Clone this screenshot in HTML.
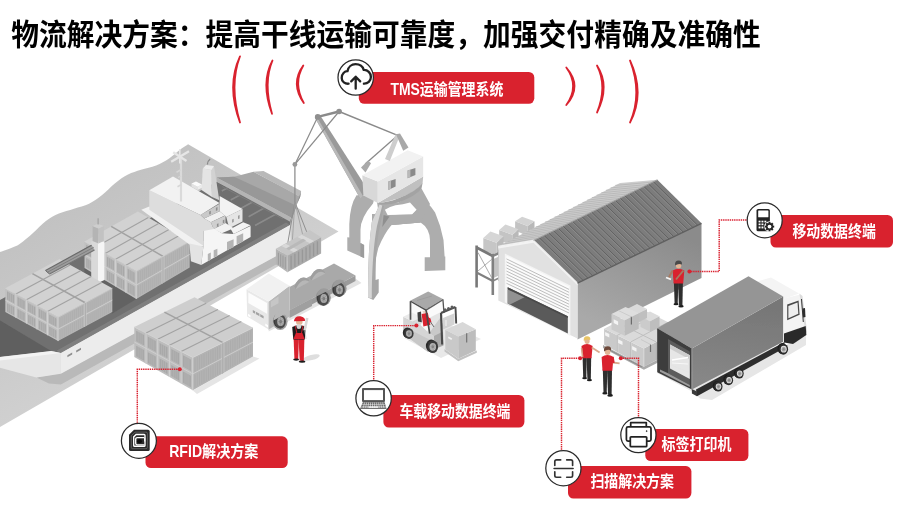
<!DOCTYPE html>
<html lang="zh-CN">
<head>
<meta charset="utf-8">
<title>物流解决方案</title>
<style>
html,body{margin:0;padding:0;background:#fff;}
body{width:908px;height:509px;overflow:hidden;position:relative;font-family:"Liberation Sans",sans-serif;}
#stage{position:absolute;left:0;top:0;width:908px;height:509px;display:block;}
.sr{position:absolute;left:0;top:0;width:1px;height:1px;overflow:hidden;clip:rect(0 0 0 0);clip-path:inset(50%);white-space:nowrap;font-size:1px;color:transparent;}
</style>
</head>
<body>
<h1 class="sr">物流解决方案：提高干线运输可靠度，加强交付精确及准确性</h1>
<ul class="sr"><li>TMS运输管理系统</li><li>移动数据终端</li><li>车载移动数据终端</li><li>RFID解决方案</li><li>标签打印机</li><li>扫描解决方案</li></ul>
<svg id="stage" width="908" height="509" viewBox="0 0 908 509" role="img" aria-label="物流解决方案：提高干线运输可靠度，加强交付精确及准确性">
<defs>
<linearGradient id="gwater" gradientUnits="userSpaceOnUse" x1="70" y1="205" x2="150" y2="345"><stop offset="0" stop-color="#c2c2c2"/><stop offset="1" stop-color="#d0d0d0"/></linearGradient>
<linearGradient id="gwall" gradientUnits="userSpaceOnUse" x1="660" y1="225" x2="610" y2="330"><stop offset="0" stop-color="#8b8b8b"/><stop offset="1" stop-color="#a9a9a9"/></linearGradient>
<linearGradient id="gtruck" gradientUnits="userSpaceOnUse" x1="745" y1="305" x2="735" y2="385"><stop offset="0" stop-color="#777777"/><stop offset="1" stop-color="#878787"/></linearGradient>
<filter id="soft" x="-2%" y="-2%" width="104%" height="104%"><feGaussianBlur stdDeviation="0.7"/></filter>
<filter id="soft2" x="-2%" y="-5%" width="104%" height="110%"><feGaussianBlur stdDeviation="0.55"/></filter>
</defs>
<g id="scene" filter="url(#soft)">
<path d="M0 252C1.7 251.4 6.7 249.9 10 248.5C13.3 247.1 16.2 246.3 20 243.7C23.8 241.1 28.7 236.7 33 232.9C37.3 229.1 41.6 224.2 45.9 221C50.2 217.8 54.2 215.6 58.9 213.5C63.6 211.4 69 210.3 74 208.7C79 207.1 84.4 206 89.1 203.7C93.8 201.4 97.8 198.5 102.1 195.1C106.4 191.7 110.8 186.6 115.1 183.2C119.4 179.8 123.7 176.8 128 174.6C132.3 172.4 136.3 171.3 141 169.8C145.7 168.3 151.4 167.4 156.1 165.5C160.8 163.6 165.1 161 169.1 158.4C173.1 155.8 176.7 152 179.9 149.7C183.1 147.3 186.7 145.2 188.1 144.3L338.5 231.5L0 427Z" fill="url(#gwater)"/>
<polygon points="36.4,377.6 60.9,373.2 291,248 294,254.5 60.9,384.6 49,383.6" fill="#b9b9b9"/>
<polygon points="0,300 216.7,181.7 291,219.5 290,225 60.9,353.1 51.1,351.1 0,357" fill="#6f6f6f"/>
<polygon points="0,320.6 51.1,351.1 0,356.5" fill="#5e5e5e"/>
<polygon points="60.9,353.1 290,225 286,222.5 56.5,350.8" fill="#7f7f7f"/>
<polygon points="0,359 51.1,352.5 60.9,353.1 60.9,373.7 36.4,377.6 0,367.8" fill="#e6e6e6"/>
<polygon points="0,357 51.1,351.1 60.9,353.1 0,360.5" fill="#f3f3f3"/>
<polygon points="60.9,353.1 290,225 291,248 60.9,373.7" fill="#ececec"/>
<polygon points="67.4,355.2 72.2,352.6 72.2,354.6 67.4,357.2" fill="#8e8e8e"/>
<polygon points="76.2,350.4 81,347.8 81,349.8 76.2,352.4" fill="#8e8e8e"/>
<polygon points="216.7,177.5 234.2,176.7 253.5,171.7 292,192 300.2,196.8 291,217.6" fill="#a8a8a8"/>
<polygon points="253.5,171.7 263.5,170.9 301.1,190.9 300.2,197 292,192.5" fill="#b9b9b9"/>
<polygon points="216.7,177.5 234.2,176.7 297,206 291,217.6" fill="#989898"/>
<polygon points="216.7,177.5 291,217.6 290.2,221.8 216.7,181.7" fill="#b4b4b4"/>
<polygon points="300.2,196.8 301.1,190.9 292,219 291,217.6" fill="#8a8a8a"/>
<line x1="221.8" y1="191.1" x2="227.2" y2="188.1" stroke="#8b8b8b" stroke-width="1.7"/>
<line x1="230.7" y1="200.1" x2="239.9" y2="195" stroke="#8b8b8b" stroke-width="1.7"/>
<line x1="239.7" y1="209" x2="252.6" y2="201.9" stroke="#8b8b8b" stroke-width="1.7"/>
<line x1="248.6" y1="216.7" x2="264.2" y2="208.1" stroke="#8b8b8b" stroke-width="1.7"/>
<line x1="255" y1="225.6" x2="275.6" y2="214.3" stroke="#8b8b8b" stroke-width="1.7"/>
<line x1="222" y1="186.5" x2="283" y2="219" stroke="#7c7c7c" stroke-width="1"/>
<polygon points="84.5,268 136.3,299 112.3,313.5 84.5,297" fill="#626262"/>
<polygon points="84.5,241.4 136.3,271.3 136.3,298.9 84.5,267.9" fill="#c0c0c0"/>
<polygon points="86.2,244.7 93.2,248.8 93.2,258.2 86.2,254" fill="#a8a8a8"/>
<line x1="87.9" y1="245.8" x2="87.9" y2="255.1" stroke="#c0c0c0" stroke-width="0.5"/>
<line x1="89.7" y1="246.8" x2="89.7" y2="256.1" stroke="#c0c0c0" stroke-width="0.5"/>
<line x1="91.4" y1="247.8" x2="91.4" y2="257.1" stroke="#c0c0c0" stroke-width="0.5"/>
<polygon points="86.2,258 93.2,262.2 93.2,271.5 86.2,267.3" fill="#a8a8a8"/>
<line x1="87.9" y1="259.1" x2="87.9" y2="268.4" stroke="#c0c0c0" stroke-width="0.5"/>
<line x1="89.7" y1="260.1" x2="89.7" y2="269.4" stroke="#c0c0c0" stroke-width="0.5"/>
<line x1="91.4" y1="261.1" x2="91.4" y2="270.5" stroke="#c0c0c0" stroke-width="0.5"/>
<polygon points="96.5,250.7 103.6,254.8 103.6,264.2 96.5,260.1" fill="#a8a8a8"/>
<line x1="98.3" y1="251.8" x2="98.3" y2="261.1" stroke="#c0c0c0" stroke-width="0.5"/>
<line x1="100" y1="252.8" x2="100" y2="262.2" stroke="#c0c0c0" stroke-width="0.5"/>
<line x1="101.8" y1="253.8" x2="101.8" y2="263.2" stroke="#c0c0c0" stroke-width="0.5"/>
<polygon points="96.5,264.1 103.6,268.3 103.6,277.7 96.5,273.5" fill="#a8a8a8"/>
<line x1="98.3" y1="265.2" x2="98.3" y2="274.5" stroke="#c0c0c0" stroke-width="0.5"/>
<line x1="100" y1="266.2" x2="100" y2="275.6" stroke="#c0c0c0" stroke-width="0.5"/>
<line x1="101.8" y1="267.2" x2="101.8" y2="276.6" stroke="#c0c0c0" stroke-width="0.5"/>
<polygon points="106.9,256.7 113.9,260.8 113.9,270.3 106.9,266.2" fill="#a8a8a8"/>
<line x1="108.6" y1="257.8" x2="108.6" y2="267.2" stroke="#c0c0c0" stroke-width="0.5"/>
<line x1="110.4" y1="258.8" x2="110.4" y2="268.3" stroke="#c0c0c0" stroke-width="0.5"/>
<line x1="112.2" y1="259.8" x2="112.2" y2="269.3" stroke="#c0c0c0" stroke-width="0.5"/>
<polygon points="106.9,270.2 113.9,274.4 113.9,283.9 106.9,279.7" fill="#a8a8a8"/>
<line x1="108.6" y1="271.3" x2="108.6" y2="280.7" stroke="#c0c0c0" stroke-width="0.5"/>
<line x1="110.4" y1="272.3" x2="110.4" y2="281.8" stroke="#c0c0c0" stroke-width="0.5"/>
<line x1="112.2" y1="273.3" x2="112.2" y2="282.8" stroke="#c0c0c0" stroke-width="0.5"/>
<polygon points="117.2,262.7 124.3,266.8 124.3,276.4 117.2,272.3" fill="#a8a8a8"/>
<line x1="119" y1="263.8" x2="119" y2="273.3" stroke="#c0c0c0" stroke-width="0.5"/>
<line x1="120.8" y1="264.8" x2="120.8" y2="274.3" stroke="#c0c0c0" stroke-width="0.5"/>
<line x1="122.5" y1="265.8" x2="122.5" y2="275.4" stroke="#c0c0c0" stroke-width="0.5"/>
<polygon points="117.2,276.3 124.3,280.5 124.3,290.1 117.2,285.9" fill="#a8a8a8"/>
<line x1="119" y1="277.4" x2="119" y2="286.9" stroke="#c0c0c0" stroke-width="0.5"/>
<line x1="120.8" y1="278.4" x2="120.8" y2="288" stroke="#c0c0c0" stroke-width="0.5"/>
<line x1="122.5" y1="279.5" x2="122.5" y2="289" stroke="#c0c0c0" stroke-width="0.5"/>
<polygon points="127.6,268.7 134.6,272.8 134.6,282.5 127.6,278.3" fill="#a8a8a8"/>
<line x1="129.4" y1="269.8" x2="129.4" y2="279.4" stroke="#c0c0c0" stroke-width="0.5"/>
<line x1="131.1" y1="270.8" x2="131.1" y2="280.4" stroke="#c0c0c0" stroke-width="0.5"/>
<line x1="132.9" y1="271.8" x2="132.9" y2="281.4" stroke="#c0c0c0" stroke-width="0.5"/>
<polygon points="127.6,282.5 134.6,286.6 134.6,296.3 127.6,292" fill="#a8a8a8"/>
<line x1="129.4" y1="283.5" x2="129.4" y2="293.1" stroke="#c0c0c0" stroke-width="0.5"/>
<line x1="131.1" y1="284.5" x2="131.1" y2="294.2" stroke="#c0c0c0" stroke-width="0.5"/>
<line x1="132.9" y1="285.6" x2="132.9" y2="295.2" stroke="#c0c0c0" stroke-width="0.5"/>
<line x1="94.9" y1="247.4" x2="94.9" y2="274.1" stroke="#d2d2d2" stroke-width="0.9"/>
<line x1="105.2" y1="253.4" x2="105.2" y2="280.3" stroke="#d2d2d2" stroke-width="0.9"/>
<line x1="115.6" y1="259.3" x2="115.6" y2="286.5" stroke="#d2d2d2" stroke-width="0.9"/>
<line x1="125.9" y1="265.3" x2="125.9" y2="292.7" stroke="#d2d2d2" stroke-width="0.9"/>
<line x1="84.5" y1="254.7" x2="136.3" y2="285.1" stroke="#d2d2d2" stroke-width="0.8"/>
<polygon points="136.3,271.3 189.7,241.4 189.7,267.4 136.3,298.9" fill="#b6b6b6"/>
<line x1="138.3" y1="271.8" x2="138.3" y2="282.9" stroke="#a8a8a8" stroke-width="0.6"/>
<line x1="138.3" y1="285.6" x2="138.3" y2="296.3" stroke="#a8a8a8" stroke-width="0.6"/>
<line x1="140.3" y1="270.7" x2="140.3" y2="281.7" stroke="#a8a8a8" stroke-width="0.6"/>
<line x1="140.3" y1="284.5" x2="140.3" y2="295.2" stroke="#a8a8a8" stroke-width="0.6"/>
<line x1="142.3" y1="269.6" x2="142.3" y2="280.6" stroke="#a8a8a8" stroke-width="0.6"/>
<line x1="142.3" y1="283.3" x2="142.3" y2="294" stroke="#a8a8a8" stroke-width="0.6"/>
<line x1="144.3" y1="268.5" x2="144.3" y2="279.4" stroke="#a8a8a8" stroke-width="0.6"/>
<line x1="144.3" y1="282.2" x2="144.3" y2="292.8" stroke="#a8a8a8" stroke-width="0.6"/>
<line x1="146.3" y1="267.4" x2="146.3" y2="278.3" stroke="#a8a8a8" stroke-width="0.6"/>
<line x1="146.3" y1="281" x2="146.3" y2="291.7" stroke="#a8a8a8" stroke-width="0.6"/>
<line x1="148.3" y1="266.2" x2="148.3" y2="277.1" stroke="#a8a8a8" stroke-width="0.6"/>
<line x1="148.3" y1="279.9" x2="148.3" y2="290.5" stroke="#a8a8a8" stroke-width="0.6"/>
<line x1="150.2" y1="265.1" x2="150.2" y2="276" stroke="#a8a8a8" stroke-width="0.6"/>
<line x1="150.2" y1="278.7" x2="150.2" y2="289.3" stroke="#a8a8a8" stroke-width="0.6"/>
<line x1="152.2" y1="264" x2="152.2" y2="274.9" stroke="#a8a8a8" stroke-width="0.6"/>
<line x1="152.2" y1="277.6" x2="152.2" y2="288.1" stroke="#a8a8a8" stroke-width="0.6"/>
<line x1="154.2" y1="262.9" x2="154.2" y2="273.7" stroke="#a8a8a8" stroke-width="0.6"/>
<line x1="154.2" y1="276.4" x2="154.2" y2="287" stroke="#a8a8a8" stroke-width="0.6"/>
<line x1="156.2" y1="261.8" x2="156.2" y2="272.6" stroke="#a8a8a8" stroke-width="0.6"/>
<line x1="156.2" y1="275.3" x2="156.2" y2="285.8" stroke="#a8a8a8" stroke-width="0.6"/>
<line x1="158.2" y1="260.6" x2="158.2" y2="271.4" stroke="#a8a8a8" stroke-width="0.6"/>
<line x1="158.2" y1="274.1" x2="158.2" y2="284.6" stroke="#a8a8a8" stroke-width="0.6"/>
<line x1="160.2" y1="259.5" x2="160.2" y2="270.3" stroke="#a8a8a8" stroke-width="0.6"/>
<line x1="160.2" y1="273" x2="160.2" y2="283.5" stroke="#a8a8a8" stroke-width="0.6"/>
<line x1="165.8" y1="256.4" x2="165.8" y2="267.1" stroke="#a8a8a8" stroke-width="0.6"/>
<line x1="165.8" y1="269.7" x2="165.8" y2="280.2" stroke="#a8a8a8" stroke-width="0.6"/>
<line x1="167.8" y1="255.3" x2="167.8" y2="265.9" stroke="#a8a8a8" stroke-width="0.6"/>
<line x1="167.8" y1="268.6" x2="167.8" y2="279" stroke="#a8a8a8" stroke-width="0.6"/>
<line x1="169.8" y1="254.2" x2="169.8" y2="264.8" stroke="#a8a8a8" stroke-width="0.6"/>
<line x1="169.8" y1="267.4" x2="169.8" y2="277.8" stroke="#a8a8a8" stroke-width="0.6"/>
<line x1="171.8" y1="253" x2="171.8" y2="263.6" stroke="#a8a8a8" stroke-width="0.6"/>
<line x1="171.8" y1="266.3" x2="171.8" y2="276.6" stroke="#a8a8a8" stroke-width="0.6"/>
<line x1="173.8" y1="251.9" x2="173.8" y2="262.5" stroke="#a8a8a8" stroke-width="0.6"/>
<line x1="173.8" y1="265.2" x2="173.8" y2="275.5" stroke="#a8a8a8" stroke-width="0.6"/>
<line x1="175.8" y1="250.8" x2="175.8" y2="261.4" stroke="#a8a8a8" stroke-width="0.6"/>
<line x1="175.8" y1="264" x2="175.8" y2="274.3" stroke="#a8a8a8" stroke-width="0.6"/>
<line x1="177.7" y1="249.7" x2="177.7" y2="260.2" stroke="#a8a8a8" stroke-width="0.6"/>
<line x1="177.7" y1="262.9" x2="177.7" y2="273.1" stroke="#a8a8a8" stroke-width="0.6"/>
<line x1="179.7" y1="248.6" x2="179.7" y2="259.1" stroke="#a8a8a8" stroke-width="0.6"/>
<line x1="179.7" y1="261.7" x2="179.7" y2="272" stroke="#a8a8a8" stroke-width="0.6"/>
<line x1="181.7" y1="247.4" x2="181.7" y2="257.9" stroke="#a8a8a8" stroke-width="0.6"/>
<line x1="181.7" y1="260.6" x2="181.7" y2="270.8" stroke="#a8a8a8" stroke-width="0.6"/>
<line x1="183.7" y1="246.3" x2="183.7" y2="256.8" stroke="#a8a8a8" stroke-width="0.6"/>
<line x1="183.7" y1="259.4" x2="183.7" y2="269.6" stroke="#a8a8a8" stroke-width="0.6"/>
<line x1="185.7" y1="245.2" x2="185.7" y2="255.6" stroke="#a8a8a8" stroke-width="0.6"/>
<line x1="185.7" y1="258.3" x2="185.7" y2="268.4" stroke="#a8a8a8" stroke-width="0.6"/>
<line x1="187.7" y1="244.1" x2="187.7" y2="254.5" stroke="#a8a8a8" stroke-width="0.6"/>
<line x1="187.7" y1="257.1" x2="187.7" y2="267.3" stroke="#a8a8a8" stroke-width="0.6"/>
<line x1="136.3" y1="285.1" x2="189.7" y2="254.4" stroke="#d2d2d2" stroke-width="0.8"/>
<polygon points="162.2,256.8 163.8,255.9 163.8,282.7 162.2,283.6" fill="#a2a2a2"/>
<line x1="162.2" y1="256.8" x2="162.2" y2="283.6" stroke="#d2d2d2" stroke-width="0.6"/>
<line x1="163.8" y1="255.9" x2="163.8" y2="282.7" stroke="#d2d2d2" stroke-width="0.6"/>
<line x1="136.3" y1="271.3" x2="136.3" y2="298.9" stroke="#d2d2d2" stroke-width="1"/>
<polygon points="84.5,241.4 137.9,211.5 189.7,241.4 136.3,271.3" fill="#d2d2d2"/>
<line x1="94.9" y1="247.4" x2="148.3" y2="217.5" stroke="#a2a2a2" stroke-width="1.1"/>
<line x1="105.2" y1="253.4" x2="158.6" y2="223.5" stroke="#a2a2a2" stroke-width="1.1"/>
<line x1="115.6" y1="259.3" x2="169" y2="229.4" stroke="#a2a2a2" stroke-width="1.1"/>
<line x1="125.9" y1="265.3" x2="179.3" y2="235.4" stroke="#a2a2a2" stroke-width="1.1"/>
<line x1="111.2" y1="226.4" x2="163" y2="256.4" stroke="#a2a2a2" stroke-width="1.6"/>
<line x1="84.5" y1="241.4" x2="136.3" y2="271.3" stroke="#d2d2d2" stroke-width="0.8"/>
<line x1="136.3" y1="271.3" x2="189.7" y2="241.4" stroke="#d2d2d2" stroke-width="0.8"/>
<polygon points="91.2,241.4 98,241.4 98,283 91.2,279.5" fill="#d9d9d9"/>
<polygon points="98,241.4 104.4,241.4 104.4,280 98,283" fill="#f5f5f5"/>
<polygon points="92.6,226 98.5,228.5 98.5,243.5 92.6,241" fill="#b4b4b4"/>
<polygon points="98.5,228.5 103.8,226 103.8,241 98.5,243.5" fill="#c2c2c2"/>
<polygon points="92.6,226 97.8,223.8 103.8,226 98.5,228.5" fill="#cecece"/>
<line x1="98.1" y1="218.3" x2="98.1" y2="224.5" stroke="#9a9a9a" stroke-width="1"/>
<polygon points="5.3,288.2 58.1,317.3 58.1,341.1 5.3,312" fill="#c0c0c0"/>
<polygon points="7,291.3 14.2,295.2 14.2,303.6 7,299.6" fill="#a8a8a8"/>
<line x1="8.8" y1="292.3" x2="8.8" y2="300.6" stroke="#c0c0c0" stroke-width="0.5"/>
<line x1="10.6" y1="293.3" x2="10.6" y2="301.6" stroke="#c0c0c0" stroke-width="0.5"/>
<line x1="12.4" y1="294.2" x2="12.4" y2="302.6" stroke="#c0c0c0" stroke-width="0.5"/>
<polygon points="7,303.2 14.2,307.1 14.2,315.5 7,311.5" fill="#a8a8a8"/>
<line x1="8.8" y1="304.2" x2="8.8" y2="312.5" stroke="#c0c0c0" stroke-width="0.5"/>
<line x1="10.6" y1="305.2" x2="10.6" y2="313.5" stroke="#c0c0c0" stroke-width="0.5"/>
<line x1="12.4" y1="306.1" x2="12.4" y2="314.5" stroke="#c0c0c0" stroke-width="0.5"/>
<polygon points="17.5,297.1 24.7,301.1 24.7,309.4 17.5,305.4" fill="#a8a8a8"/>
<line x1="19.3" y1="298.1" x2="19.3" y2="306.4" stroke="#c0c0c0" stroke-width="0.5"/>
<line x1="21.1" y1="299.1" x2="21.1" y2="307.4" stroke="#c0c0c0" stroke-width="0.5"/>
<line x1="22.9" y1="300.1" x2="22.9" y2="308.4" stroke="#c0c0c0" stroke-width="0.5"/>
<polygon points="17.5,309 24.7,313 24.7,321.3 17.5,317.3" fill="#a8a8a8"/>
<line x1="19.3" y1="310" x2="19.3" y2="318.3" stroke="#c0c0c0" stroke-width="0.5"/>
<line x1="21.1" y1="311" x2="21.1" y2="319.3" stroke="#c0c0c0" stroke-width="0.5"/>
<line x1="22.9" y1="312" x2="22.9" y2="320.3" stroke="#c0c0c0" stroke-width="0.5"/>
<polygon points="28.1,302.9 35.3,306.9 35.3,315.2 28.1,311.2" fill="#a8a8a8"/>
<line x1="29.9" y1="303.9" x2="29.9" y2="312.2" stroke="#c0c0c0" stroke-width="0.5"/>
<line x1="31.7" y1="304.9" x2="31.7" y2="313.2" stroke="#c0c0c0" stroke-width="0.5"/>
<line x1="33.5" y1="305.9" x2="33.5" y2="314.2" stroke="#c0c0c0" stroke-width="0.5"/>
<polygon points="28.1,314.8 35.3,318.8 35.3,327.1 28.1,323.1" fill="#a8a8a8"/>
<line x1="29.9" y1="315.8" x2="29.9" y2="324.1" stroke="#c0c0c0" stroke-width="0.5"/>
<line x1="31.7" y1="316.8" x2="31.7" y2="325.1" stroke="#c0c0c0" stroke-width="0.5"/>
<line x1="33.5" y1="317.8" x2="33.5" y2="326.1" stroke="#c0c0c0" stroke-width="0.5"/>
<polygon points="38.7,308.7 45.9,312.7 45.9,321 38.7,317.1" fill="#a8a8a8"/>
<line x1="40.5" y1="309.7" x2="40.5" y2="318.1" stroke="#c0c0c0" stroke-width="0.5"/>
<line x1="42.3" y1="310.7" x2="42.3" y2="319" stroke="#c0c0c0" stroke-width="0.5"/>
<line x1="44.1" y1="311.7" x2="44.1" y2="320" stroke="#c0c0c0" stroke-width="0.5"/>
<polygon points="38.7,320.6 45.9,324.6 45.9,332.9 38.7,329" fill="#a8a8a8"/>
<line x1="40.5" y1="321.6" x2="40.5" y2="330" stroke="#c0c0c0" stroke-width="0.5"/>
<line x1="42.3" y1="322.6" x2="42.3" y2="330.9" stroke="#c0c0c0" stroke-width="0.5"/>
<line x1="44.1" y1="323.6" x2="44.1" y2="331.9" stroke="#c0c0c0" stroke-width="0.5"/>
<polygon points="49.2,314.6 56.4,318.5 56.4,326.8 49.2,322.9" fill="#a8a8a8"/>
<line x1="51" y1="315.5" x2="51" y2="323.9" stroke="#c0c0c0" stroke-width="0.5"/>
<line x1="52.8" y1="316.5" x2="52.8" y2="324.9" stroke="#c0c0c0" stroke-width="0.5"/>
<line x1="54.6" y1="317.5" x2="54.6" y2="325.9" stroke="#c0c0c0" stroke-width="0.5"/>
<polygon points="49.2,326.5 56.4,330.4 56.4,338.7 49.2,334.8" fill="#a8a8a8"/>
<line x1="51" y1="327.4" x2="51" y2="335.8" stroke="#c0c0c0" stroke-width="0.5"/>
<line x1="52.8" y1="328.4" x2="52.8" y2="336.8" stroke="#c0c0c0" stroke-width="0.5"/>
<line x1="54.6" y1="329.4" x2="54.6" y2="337.8" stroke="#c0c0c0" stroke-width="0.5"/>
<line x1="15.9" y1="294" x2="15.9" y2="317.8" stroke="#d2d2d2" stroke-width="0.9"/>
<line x1="26.4" y1="299.8" x2="26.4" y2="323.6" stroke="#d2d2d2" stroke-width="0.9"/>
<line x1="37" y1="305.7" x2="37" y2="329.5" stroke="#d2d2d2" stroke-width="0.9"/>
<line x1="47.5" y1="311.5" x2="47.5" y2="335.3" stroke="#d2d2d2" stroke-width="0.9"/>
<line x1="5.3" y1="300.1" x2="58.1" y2="329.2" stroke="#d2d2d2" stroke-width="0.8"/>
<polygon points="58.1,317.3 112.3,288.2 112.3,312 58.1,341.1" fill="#b6b6b6"/>
<line x1="60.1" y1="317.6" x2="60.1" y2="327.2" stroke="#a8a8a8" stroke-width="0.6"/>
<line x1="60.1" y1="329.5" x2="60.1" y2="338.8" stroke="#a8a8a8" stroke-width="0.6"/>
<line x1="62.1" y1="316.6" x2="62.1" y2="326.1" stroke="#a8a8a8" stroke-width="0.6"/>
<line x1="62.1" y1="328.5" x2="62.1" y2="337.7" stroke="#a8a8a8" stroke-width="0.6"/>
<line x1="64.2" y1="315.5" x2="64.2" y2="325" stroke="#a8a8a8" stroke-width="0.6"/>
<line x1="64.2" y1="327.4" x2="64.2" y2="336.7" stroke="#a8a8a8" stroke-width="0.6"/>
<line x1="66.2" y1="314.4" x2="66.2" y2="323.9" stroke="#a8a8a8" stroke-width="0.6"/>
<line x1="66.2" y1="326.3" x2="66.2" y2="335.6" stroke="#a8a8a8" stroke-width="0.6"/>
<line x1="68.2" y1="313.3" x2="68.2" y2="322.8" stroke="#a8a8a8" stroke-width="0.6"/>
<line x1="68.2" y1="325.2" x2="68.2" y2="334.5" stroke="#a8a8a8" stroke-width="0.6"/>
<line x1="70.2" y1="312.2" x2="70.2" y2="321.7" stroke="#a8a8a8" stroke-width="0.6"/>
<line x1="70.2" y1="324.1" x2="70.2" y2="333.4" stroke="#a8a8a8" stroke-width="0.6"/>
<line x1="72.3" y1="311.1" x2="72.3" y2="320.6" stroke="#a8a8a8" stroke-width="0.6"/>
<line x1="72.3" y1="323" x2="72.3" y2="332.3" stroke="#a8a8a8" stroke-width="0.6"/>
<line x1="74.3" y1="310" x2="74.3" y2="319.6" stroke="#a8a8a8" stroke-width="0.6"/>
<line x1="74.3" y1="321.9" x2="74.3" y2="331.2" stroke="#a8a8a8" stroke-width="0.6"/>
<line x1="76.3" y1="309" x2="76.3" y2="318.5" stroke="#a8a8a8" stroke-width="0.6"/>
<line x1="76.3" y1="320.9" x2="76.3" y2="330.1" stroke="#a8a8a8" stroke-width="0.6"/>
<line x1="78.3" y1="307.9" x2="78.3" y2="317.4" stroke="#a8a8a8" stroke-width="0.6"/>
<line x1="78.3" y1="319.8" x2="78.3" y2="329.1" stroke="#a8a8a8" stroke-width="0.6"/>
<line x1="80.3" y1="306.8" x2="80.3" y2="316.3" stroke="#a8a8a8" stroke-width="0.6"/>
<line x1="80.3" y1="318.7" x2="80.3" y2="328" stroke="#a8a8a8" stroke-width="0.6"/>
<line x1="82.4" y1="305.7" x2="82.4" y2="315.2" stroke="#a8a8a8" stroke-width="0.6"/>
<line x1="82.4" y1="317.6" x2="82.4" y2="326.9" stroke="#a8a8a8" stroke-width="0.6"/>
<line x1="88" y1="302.7" x2="88" y2="312.2" stroke="#a8a8a8" stroke-width="0.6"/>
<line x1="88" y1="314.6" x2="88" y2="323.8" stroke="#a8a8a8" stroke-width="0.6"/>
<line x1="90.1" y1="301.6" x2="90.1" y2="311.1" stroke="#a8a8a8" stroke-width="0.6"/>
<line x1="90.1" y1="313.5" x2="90.1" y2="322.8" stroke="#a8a8a8" stroke-width="0.6"/>
<line x1="92.1" y1="300.5" x2="92.1" y2="310" stroke="#a8a8a8" stroke-width="0.6"/>
<line x1="92.1" y1="312.4" x2="92.1" y2="321.7" stroke="#a8a8a8" stroke-width="0.6"/>
<line x1="94.1" y1="299.4" x2="94.1" y2="308.9" stroke="#a8a8a8" stroke-width="0.6"/>
<line x1="94.1" y1="311.3" x2="94.1" y2="320.6" stroke="#a8a8a8" stroke-width="0.6"/>
<line x1="96.1" y1="298.3" x2="96.1" y2="307.8" stroke="#a8a8a8" stroke-width="0.6"/>
<line x1="96.1" y1="310.2" x2="96.1" y2="319.5" stroke="#a8a8a8" stroke-width="0.6"/>
<line x1="98.1" y1="297.2" x2="98.1" y2="306.7" stroke="#a8a8a8" stroke-width="0.6"/>
<line x1="98.1" y1="309.1" x2="98.1" y2="318.4" stroke="#a8a8a8" stroke-width="0.6"/>
<line x1="100.2" y1="296.1" x2="100.2" y2="305.7" stroke="#a8a8a8" stroke-width="0.6"/>
<line x1="100.2" y1="308" x2="100.2" y2="317.3" stroke="#a8a8a8" stroke-width="0.6"/>
<line x1="102.2" y1="295.1" x2="102.2" y2="304.6" stroke="#a8a8a8" stroke-width="0.6"/>
<line x1="102.2" y1="307" x2="102.2" y2="316.2" stroke="#a8a8a8" stroke-width="0.6"/>
<line x1="104.2" y1="294" x2="104.2" y2="303.5" stroke="#a8a8a8" stroke-width="0.6"/>
<line x1="104.2" y1="305.9" x2="104.2" y2="315.2" stroke="#a8a8a8" stroke-width="0.6"/>
<line x1="106.2" y1="292.9" x2="106.2" y2="302.4" stroke="#a8a8a8" stroke-width="0.6"/>
<line x1="106.2" y1="304.8" x2="106.2" y2="314.1" stroke="#a8a8a8" stroke-width="0.6"/>
<line x1="108.3" y1="291.8" x2="108.3" y2="301.3" stroke="#a8a8a8" stroke-width="0.6"/>
<line x1="108.3" y1="303.7" x2="108.3" y2="313" stroke="#a8a8a8" stroke-width="0.6"/>
<line x1="110.3" y1="290.7" x2="110.3" y2="300.2" stroke="#a8a8a8" stroke-width="0.6"/>
<line x1="110.3" y1="302.6" x2="110.3" y2="311.9" stroke="#a8a8a8" stroke-width="0.6"/>
<line x1="58.1" y1="329.2" x2="112.3" y2="300.1" stroke="#d2d2d2" stroke-width="0.8"/>
<polygon points="84.4,303.2 86,302.3 86,326.1 84.4,327" fill="#a2a2a2"/>
<line x1="84.4" y1="303.2" x2="84.4" y2="327" stroke="#d2d2d2" stroke-width="0.6"/>
<line x1="86" y1="302.3" x2="86" y2="326.1" stroke="#d2d2d2" stroke-width="0.6"/>
<line x1="58.1" y1="317.3" x2="58.1" y2="341.1" stroke="#d2d2d2" stroke-width="1"/>
<polygon points="5.3,288.2 59.5,259.1 112.3,288.2 58.1,317.3" fill="#d2d2d2"/>
<line x1="15.9" y1="294" x2="70.1" y2="264.9" stroke="#a2a2a2" stroke-width="1.1"/>
<line x1="26.4" y1="299.8" x2="80.6" y2="270.7" stroke="#a2a2a2" stroke-width="1.1"/>
<line x1="37" y1="305.7" x2="91.2" y2="276.6" stroke="#a2a2a2" stroke-width="1.1"/>
<line x1="47.5" y1="311.5" x2="101.7" y2="282.4" stroke="#a2a2a2" stroke-width="1.1"/>
<line x1="32.4" y1="273.6" x2="85.2" y2="302.8" stroke="#a2a2a2" stroke-width="1.6"/>
<line x1="5.3" y1="288.2" x2="58.1" y2="317.3" stroke="#d2d2d2" stroke-width="0.8"/>
<line x1="58.1" y1="317.3" x2="112.3" y2="288.2" stroke="#d2d2d2" stroke-width="0.8"/>
<polygon points="91.5,244.8 94.5,250 49.5,274 45.5,270.8" fill="#9c9c9c"/>
<line x1="91.5" y1="245.2" x2="45.5" y2="270.5" stroke="#6a6a6a" stroke-width="1.3"/>
<line x1="94.5" y1="250" x2="49.5" y2="274" stroke="#747474" stroke-width="1.2"/>
<line x1="93.8" y1="247.3" x2="47.5" y2="272.2" stroke="#777777" stroke-width="0.8"/>
<line x1="45.5" y1="270.5" x2="49.5" y2="274" stroke="#6a6a6a" stroke-width="1"/>
<polygon points="141.3,209.8 149.3,206.5 203.4,241 203.4,246.6 193,247" fill="#f1f1f1"/>
<polygon points="189.4,243.6 203.4,246.6 201.2,265 190.9,261.3" fill="#e3e3e3"/>
<polygon points="203.4,230.4 211.5,226.7 221.8,233.3 233.6,234 250.6,225.9 250.6,237 201.2,265 203.4,246.6" fill="#f5f5f5"/>
<polygon points="207.8,253.9 210.8,252.5 210.8,259.8 207.8,261.3" fill="#b4b4b4"/>
<polygon points="213.7,250.3 217.4,248.8 217.4,256.1 213.7,257.6" fill="#b4b4b4"/>
<polygon points="227,242.1 233.6,239.2 233.6,247.3 227,250.3" fill="#b4b4b4"/>
<polygon points="236.6,236.3 243.2,233.3 243.2,241.4 236.6,244.4" fill="#b4b4b4"/>
<polygon points="149.3,190.3 200.5,214.9 204.2,218.6 210.8,222.3 213.7,228.9 203.4,231 203.4,245.8 149.3,209.8" fill="#dddddd"/>
<polygon points="230.7,228.9 243.2,222.3 250.6,225.2 233.6,234" fill="#f4f4f4"/>
<polygon points="226.3,217.1 242.5,209 242.5,221.5 229.2,228.2" fill="#e5e5e5"/>
<polygon points="232.1,219.5 233.7,218.8 233.7,222.1 232.1,222.8" fill="#9a9a9a"/>
<polygon points="238,215.8 239.6,215.1 239.6,218.4 238,219.1" fill="#9a9a9a"/>
<polygon points="219.6,203.1 219.6,196 242.5,209 226.3,217.1 219.6,211.2" fill="#f3f3f3"/>
<polygon points="204.2,218.6 219.6,211.2 224.8,215.6 210.8,222.3" fill="#f0f0f0"/>
<polygon points="213.7,228.9 225.5,223 233.6,228.2 221.8,233.3" fill="#f2f2f2"/>
<polygon points="200.5,214.9 219.6,203.8 219.6,211.2 204.2,218.6" fill="#c9c9c9"/>
<polygon points="209.2,211.5 210.8,210.8 210.8,213.9 209.2,214.6" fill="#8f8f8f"/>
<polygon points="215.9,207.8 217.5,207.1 217.5,210.2 215.9,210.9" fill="#8f8f8f"/>
<polygon points="210.8,222.3 225.5,215.6 225.5,223 213.7,228.9" fill="#cfcfcf"/>
<polygon points="216.9,224 218.5,223.3 218.5,226.4 216.9,227.1" fill="#8f8f8f"/>
<polygon points="222.8,220.3 224.4,219.6 224.4,222.7 222.8,223.4" fill="#8f8f8f"/>
<polygon points="149.3,190.3 173,176.4 219.6,203.1 200.5,214.9" fill="#f2f2f2"/>
<polygon points="191.5,183.5 197.5,186.8 197.5,190 191.5,186.7" fill="#e2e2e2"/>
<polygon points="197.5,186.8 202,184.5 202,187.7 197.5,190" fill="#ededed"/>
<polygon points="191.5,183.5 196,181.5 202,184.5 197.5,186.8" fill="#fbfbfb"/>
<polygon points="202.8,168.5 211.5,170 212,197 201.5,190" fill="#e4e4e4"/>
<polygon points="211.5,170 214,166 219.3,200.2 212,197" fill="#d2d2d2"/>
<polygon points="202.8,168.5 206,165 214,166 211.5,170" fill="#ececec"/>
<path d="M207.4 164.5Q207.6 160.8 210.2 159" fill="none" stroke="#8a8a8a" stroke-width="1.3"/>
<line x1="181" y1="158" x2="181" y2="201.5" stroke="#dadada" stroke-width="2.2"/>
<line x1="171.2" y1="161.8" x2="189" y2="151.3" stroke="#e6e6e6" stroke-width="2.3"/>
<line x1="173.2" y1="152.2" x2="186.5" y2="161" stroke="#e6e6e6" stroke-width="2.3"/>
<line x1="179.8" y1="149" x2="179.8" y2="163.5" stroke="#e6e6e6" stroke-width="1.6"/>
<line x1="176.5" y1="172.2" x2="181" y2="169.8" stroke="#d6d6d6" stroke-width="1.6"/>
<line x1="177.5" y1="186.8" x2="181.2" y2="184.6" stroke="#d6d6d6" stroke-width="1.6"/>
<line x1="178" y1="177.5" x2="181" y2="176" stroke="#d6d6d6" stroke-width="1.2"/>
<polygon points="192.8,390.5 253,356.6 259.5,358.5 197,394" fill="#e5e5e5"/>
<polygon points="134.3,327 192.8,357.5 192.8,390.3 134.3,357" fill="#bdbdbd"/>
<polygon points="136.2,330.7 144.1,334.9 144.1,345.5 136.2,341.2" fill="#a8a8a8"/>
<line x1="138.2" y1="331.7" x2="138.2" y2="342.3" stroke="#bdbdbd" stroke-width="0.5"/>
<line x1="140.2" y1="332.8" x2="140.2" y2="343.4" stroke="#bdbdbd" stroke-width="0.5"/>
<line x1="142.1" y1="333.8" x2="142.1" y2="344.5" stroke="#bdbdbd" stroke-width="0.5"/>
<polygon points="136.2,345.7 144.1,350.1 144.1,360.8 136.2,356.3" fill="#a8a8a8"/>
<line x1="138.2" y1="346.8" x2="138.2" y2="357.4" stroke="#bdbdbd" stroke-width="0.5"/>
<line x1="140.2" y1="347.9" x2="140.2" y2="358.5" stroke="#bdbdbd" stroke-width="0.5"/>
<line x1="142.1" y1="349" x2="142.1" y2="359.6" stroke="#bdbdbd" stroke-width="0.5"/>
<polygon points="147.9,336.8 155.8,341 155.8,351.9 147.9,347.6" fill="#a8a8a8"/>
<line x1="149.9" y1="337.9" x2="149.9" y2="348.6" stroke="#bdbdbd" stroke-width="0.5"/>
<line x1="151.9" y1="338.9" x2="151.9" y2="349.7" stroke="#bdbdbd" stroke-width="0.5"/>
<line x1="153.8" y1="340" x2="153.8" y2="350.8" stroke="#bdbdbd" stroke-width="0.5"/>
<polygon points="147.9,352.2 155.8,356.5 155.8,367.4 147.9,362.9" fill="#a8a8a8"/>
<line x1="149.9" y1="353.3" x2="149.9" y2="364" stroke="#bdbdbd" stroke-width="0.5"/>
<line x1="151.9" y1="354.3" x2="151.9" y2="365.1" stroke="#bdbdbd" stroke-width="0.5"/>
<line x1="153.8" y1="355.4" x2="153.8" y2="366.3" stroke="#bdbdbd" stroke-width="0.5"/>
<polygon points="159.6,343 167.5,347.2 167.5,358.2 159.6,353.9" fill="#a8a8a8"/>
<line x1="161.6" y1="344" x2="161.6" y2="355" stroke="#bdbdbd" stroke-width="0.5"/>
<line x1="163.6" y1="345.1" x2="163.6" y2="356.1" stroke="#bdbdbd" stroke-width="0.5"/>
<line x1="165.5" y1="346.1" x2="165.5" y2="357.1" stroke="#bdbdbd" stroke-width="0.5"/>
<polygon points="159.6,358.6 167.5,363 167.5,374 159.6,369.5" fill="#a8a8a8"/>
<line x1="161.6" y1="359.7" x2="161.6" y2="370.6" stroke="#bdbdbd" stroke-width="0.5"/>
<line x1="163.6" y1="360.8" x2="163.6" y2="371.8" stroke="#bdbdbd" stroke-width="0.5"/>
<line x1="165.5" y1="361.9" x2="165.5" y2="372.9" stroke="#bdbdbd" stroke-width="0.5"/>
<polygon points="171.3,349.1 179.2,353.3 179.2,364.6 171.3,360.3" fill="#a8a8a8"/>
<line x1="173.3" y1="350.2" x2="173.3" y2="361.3" stroke="#bdbdbd" stroke-width="0.5"/>
<line x1="175.2" y1="351.2" x2="175.2" y2="362.4" stroke="#bdbdbd" stroke-width="0.5"/>
<line x1="177.2" y1="352.3" x2="177.2" y2="363.5" stroke="#bdbdbd" stroke-width="0.5"/>
<polygon points="171.3,365 179.2,369.4 179.2,380.6 171.3,376.1" fill="#a8a8a8"/>
<line x1="173.3" y1="366.1" x2="173.3" y2="377.3" stroke="#bdbdbd" stroke-width="0.5"/>
<line x1="175.2" y1="367.2" x2="175.2" y2="378.4" stroke="#bdbdbd" stroke-width="0.5"/>
<line x1="177.2" y1="368.3" x2="177.2" y2="379.5" stroke="#bdbdbd" stroke-width="0.5"/>
<polygon points="183,355.3 190.9,359.5 190.9,370.9 183,366.6" fill="#a8a8a8"/>
<line x1="185" y1="356.3" x2="185" y2="367.7" stroke="#bdbdbd" stroke-width="0.5"/>
<line x1="187" y1="357.4" x2="187" y2="368.8" stroke="#bdbdbd" stroke-width="0.5"/>
<line x1="188.9" y1="358.4" x2="188.9" y2="369.8" stroke="#bdbdbd" stroke-width="0.5"/>
<polygon points="183,371.5 190.9,375.8 190.9,387.3 183,382.8" fill="#a8a8a8"/>
<line x1="185" y1="372.5" x2="185" y2="383.9" stroke="#bdbdbd" stroke-width="0.5"/>
<line x1="187" y1="373.6" x2="187" y2="385" stroke="#bdbdbd" stroke-width="0.5"/>
<line x1="188.9" y1="374.7" x2="188.9" y2="386.1" stroke="#bdbdbd" stroke-width="0.5"/>
<line x1="146" y1="333.1" x2="146" y2="363.7" stroke="#d2d2d2" stroke-width="0.9"/>
<line x1="157.7" y1="339.2" x2="157.7" y2="370.3" stroke="#d2d2d2" stroke-width="0.9"/>
<line x1="169.4" y1="345.3" x2="169.4" y2="377" stroke="#d2d2d2" stroke-width="0.9"/>
<line x1="181.1" y1="351.4" x2="181.1" y2="383.6" stroke="#d2d2d2" stroke-width="0.9"/>
<line x1="134.3" y1="342" x2="192.8" y2="373.9" stroke="#d2d2d2" stroke-width="0.8"/>
<polygon points="192.8,357.5 253,327.7 253,356.4 192.8,390.3" fill="#b3b3b3"/>
<line x1="195" y1="358.3" x2="195" y2="371.4" stroke="#a8a8a8" stroke-width="0.6"/>
<line x1="195" y1="374.7" x2="195" y2="387.4" stroke="#a8a8a8" stroke-width="0.6"/>
<line x1="197.3" y1="357.2" x2="197.3" y2="370.2" stroke="#a8a8a8" stroke-width="0.6"/>
<line x1="197.3" y1="373.5" x2="197.3" y2="386.1" stroke="#a8a8a8" stroke-width="0.6"/>
<line x1="199.5" y1="356.1" x2="199.5" y2="369" stroke="#a8a8a8" stroke-width="0.6"/>
<line x1="199.5" y1="372.3" x2="199.5" y2="384.9" stroke="#a8a8a8" stroke-width="0.6"/>
<line x1="201.8" y1="355" x2="201.8" y2="367.9" stroke="#a8a8a8" stroke-width="0.6"/>
<line x1="201.8" y1="371.1" x2="201.8" y2="383.6" stroke="#a8a8a8" stroke-width="0.6"/>
<line x1="204" y1="353.9" x2="204" y2="366.7" stroke="#a8a8a8" stroke-width="0.6"/>
<line x1="204" y1="369.9" x2="204" y2="382.4" stroke="#a8a8a8" stroke-width="0.6"/>
<line x1="206.3" y1="352.7" x2="206.3" y2="365.5" stroke="#a8a8a8" stroke-width="0.6"/>
<line x1="206.3" y1="368.7" x2="206.3" y2="381.1" stroke="#a8a8a8" stroke-width="0.6"/>
<line x1="208.5" y1="351.6" x2="208.5" y2="364.3" stroke="#a8a8a8" stroke-width="0.6"/>
<line x1="208.5" y1="367.5" x2="208.5" y2="379.9" stroke="#a8a8a8" stroke-width="0.6"/>
<line x1="210.8" y1="350.5" x2="210.8" y2="363.1" stroke="#a8a8a8" stroke-width="0.6"/>
<line x1="210.8" y1="366.3" x2="210.8" y2="378.6" stroke="#a8a8a8" stroke-width="0.6"/>
<line x1="213" y1="349.4" x2="213" y2="361.9" stroke="#a8a8a8" stroke-width="0.6"/>
<line x1="213" y1="365.1" x2="213" y2="377.3" stroke="#a8a8a8" stroke-width="0.6"/>
<line x1="215.3" y1="348.3" x2="215.3" y2="360.8" stroke="#a8a8a8" stroke-width="0.6"/>
<line x1="215.3" y1="363.9" x2="215.3" y2="376.1" stroke="#a8a8a8" stroke-width="0.6"/>
<line x1="217.5" y1="347.1" x2="217.5" y2="359.6" stroke="#a8a8a8" stroke-width="0.6"/>
<line x1="217.5" y1="362.7" x2="217.5" y2="374.8" stroke="#a8a8a8" stroke-width="0.6"/>
<line x1="219.8" y1="346" x2="219.8" y2="358.4" stroke="#a8a8a8" stroke-width="0.6"/>
<line x1="219.8" y1="361.5" x2="219.8" y2="373.6" stroke="#a8a8a8" stroke-width="0.6"/>
<line x1="226" y1="342.9" x2="226" y2="355.1" stroke="#a8a8a8" stroke-width="0.6"/>
<line x1="226" y1="358.1" x2="226" y2="370" stroke="#a8a8a8" stroke-width="0.6"/>
<line x1="228.3" y1="341.8" x2="228.3" y2="353.9" stroke="#a8a8a8" stroke-width="0.6"/>
<line x1="228.3" y1="356.9" x2="228.3" y2="368.8" stroke="#a8a8a8" stroke-width="0.6"/>
<line x1="230.5" y1="340.6" x2="230.5" y2="352.7" stroke="#a8a8a8" stroke-width="0.6"/>
<line x1="230.5" y1="355.7" x2="230.5" y2="367.5" stroke="#a8a8a8" stroke-width="0.6"/>
<line x1="232.8" y1="339.5" x2="232.8" y2="351.5" stroke="#a8a8a8" stroke-width="0.6"/>
<line x1="232.8" y1="354.5" x2="232.8" y2="366.3" stroke="#a8a8a8" stroke-width="0.6"/>
<line x1="235" y1="338.4" x2="235" y2="350.4" stroke="#a8a8a8" stroke-width="0.6"/>
<line x1="235" y1="353.4" x2="235" y2="365" stroke="#a8a8a8" stroke-width="0.6"/>
<line x1="237.3" y1="337.3" x2="237.3" y2="349.2" stroke="#a8a8a8" stroke-width="0.6"/>
<line x1="237.3" y1="352.2" x2="237.3" y2="363.8" stroke="#a8a8a8" stroke-width="0.6"/>
<line x1="239.5" y1="336.1" x2="239.5" y2="348" stroke="#a8a8a8" stroke-width="0.6"/>
<line x1="239.5" y1="351" x2="239.5" y2="362.5" stroke="#a8a8a8" stroke-width="0.6"/>
<line x1="241.8" y1="335" x2="241.8" y2="346.8" stroke="#a8a8a8" stroke-width="0.6"/>
<line x1="241.8" y1="349.8" x2="241.8" y2="361.3" stroke="#a8a8a8" stroke-width="0.6"/>
<line x1="244" y1="333.9" x2="244" y2="345.6" stroke="#a8a8a8" stroke-width="0.6"/>
<line x1="244" y1="348.6" x2="244" y2="360" stroke="#a8a8a8" stroke-width="0.6"/>
<line x1="246.3" y1="332.8" x2="246.3" y2="344.4" stroke="#a8a8a8" stroke-width="0.6"/>
<line x1="246.3" y1="347.4" x2="246.3" y2="358.7" stroke="#a8a8a8" stroke-width="0.6"/>
<line x1="248.5" y1="331.7" x2="248.5" y2="343.3" stroke="#a8a8a8" stroke-width="0.6"/>
<line x1="248.5" y1="346.2" x2="248.5" y2="357.5" stroke="#a8a8a8" stroke-width="0.6"/>
<line x1="250.8" y1="330.5" x2="250.8" y2="342.1" stroke="#a8a8a8" stroke-width="0.6"/>
<line x1="250.8" y1="345" x2="250.8" y2="356.2" stroke="#a8a8a8" stroke-width="0.6"/>
<line x1="192.8" y1="373.9" x2="253" y2="342.1" stroke="#d2d2d2" stroke-width="0.8"/>
<polygon points="222,343 223.8,342.2 223.8,372.8 222,373.9" fill="#a2a2a2"/>
<line x1="222" y1="343" x2="222" y2="373.9" stroke="#d2d2d2" stroke-width="0.6"/>
<line x1="223.8" y1="342.2" x2="223.8" y2="372.8" stroke="#d2d2d2" stroke-width="0.6"/>
<line x1="192.8" y1="357.5" x2="192.8" y2="390.3" stroke="#d2d2d2" stroke-width="1"/>
<polygon points="134.3,327 194.5,297.2 253,327.7 192.8,357.5" fill="#cecece"/>
<line x1="146" y1="333.1" x2="206.2" y2="303.3" stroke="#a2a2a2" stroke-width="1.1"/>
<line x1="157.7" y1="339.2" x2="217.9" y2="309.4" stroke="#a2a2a2" stroke-width="1.1"/>
<line x1="169.4" y1="345.3" x2="229.6" y2="315.5" stroke="#a2a2a2" stroke-width="1.1"/>
<line x1="181.1" y1="351.4" x2="241.3" y2="321.6" stroke="#a2a2a2" stroke-width="1.1"/>
<line x1="164.4" y1="312.1" x2="222.9" y2="342.6" stroke="#a2a2a2" stroke-width="1.6"/>
<line x1="134.3" y1="327" x2="192.8" y2="357.5" stroke="#d2d2d2" stroke-width="0.8"/>
<line x1="192.8" y1="357.5" x2="253" y2="327.7" stroke="#d2d2d2" stroke-width="0.8"/>
<line x1="294.9" y1="164.4" x2="294.9" y2="203" stroke="#8f8f8f" stroke-width="1.3"/>
<line x1="294.9" y1="202" x2="287.5" y2="244.5" stroke="#8f8f8f" stroke-width="1"/>
<line x1="294.9" y1="202" x2="309.5" y2="239" stroke="#8f8f8f" stroke-width="1"/>
<line x1="294.9" y1="202" x2="292" y2="246" stroke="#9a9a9a" stroke-width="0.8"/>
<line x1="294.9" y1="202" x2="303" y2="236" stroke="#9a9a9a" stroke-width="0.8"/>
<polygon points="275.9,248.7 287.4,255.8 287.4,272.2 275.9,264.2" fill="#b4b4b4"/>
<line x1="278.4" y1="252.8" x2="278.4" y2="264.8" stroke="#9c9c9c" stroke-width="1.1"/>
<line x1="280.7" y1="254.2" x2="280.7" y2="266.2" stroke="#9c9c9c" stroke-width="1.1"/>
<line x1="283" y1="255.6" x2="283" y2="267.6" stroke="#9c9c9c" stroke-width="1.1"/>
<line x1="285.3" y1="257" x2="285.3" y2="269" stroke="#9c9c9c" stroke-width="1.1"/>
<polygon points="287.4,255.8 321.1,237.2 321.1,253.6 287.4,272.2" fill="#ababab"/>
<line x1="291.1" y1="255.7" x2="291.1" y2="268.7" stroke="#989898" stroke-width="1.3"/>
<line x1="294.9" y1="253.7" x2="294.9" y2="266.7" stroke="#989898" stroke-width="1.3"/>
<line x1="298.6" y1="251.6" x2="298.6" y2="264.6" stroke="#989898" stroke-width="1.3"/>
<line x1="302.4" y1="249.5" x2="302.4" y2="262.5" stroke="#989898" stroke-width="1.3"/>
<line x1="306.1" y1="247.5" x2="306.1" y2="260.5" stroke="#989898" stroke-width="1.3"/>
<line x1="309.9" y1="245.4" x2="309.9" y2="258.4" stroke="#989898" stroke-width="1.3"/>
<line x1="313.6" y1="243.3" x2="313.6" y2="256.3" stroke="#989898" stroke-width="1.3"/>
<line x1="317.4" y1="241.3" x2="317.4" y2="254.3" stroke="#989898" stroke-width="1.3"/>
<line x1="287.4" y1="255.8" x2="287.4" y2="272.2" stroke="#c4c4c4" stroke-width="0.8"/>
<polygon points="275.9,248.7 309.6,230.1 321.1,237.2 287.4,255.8" fill="#c6c6c6"/>
<polygon points="281.5,246 285.5,243.8 298,250 294,252.3" fill="#d9d9d9"/>
<polygon points="297.5,237 301.5,234.8 314,241 310,243.3" fill="#d9d9d9"/>
<polygon points="286,248.5 303,238.8 306,240.4 289,250.2" fill="#b9b9b9"/>
<polygon points="268.7,331.5 361.5,283 355.5,278.5 268.7,326" fill="#e3e3e3"/>
<polygon points="289.5,287 334,263.4 355.5,275.6 289.5,310.5" fill="#a9a9a9"/>
<path d="M294 286.6Q300 273.5 308.6 279.1L309.6 281.8L295.6 289.2Z" fill="#b7b7b7"/>
<path d="M294 286.6Q300 273.5 308.6 279.1L309.6 281.8Q301.8 276.5 295.6 289.2Z" fill="#9f9f9f"/>
<path d="M309.8 278.2Q315.8 265.1 324.4 270.7L325.4 273.4L311.4 280.8Z" fill="#b7b7b7"/>
<path d="M309.8 278.2Q315.8 265.1 324.4 270.7L325.4 273.4Q317.6 268.1 311.4 280.8Z" fill="#9f9f9f"/>
<polygon points="289.5,310.5 355.5,275.6 355.5,281 289.5,316.5" fill="#9b9b9b"/>
<ellipse cx="323.2" cy="297.6" rx="7.6" ry="8.4" fill="#959595"/>
<ellipse cx="339" cy="288.4" rx="7.6" ry="8.4" fill="#959595"/>
<polygon points="289.5,310.5 312,298.6 312,306 289.5,318" fill="#9f9f9f"/>
<polygon points="246.5,289.3 268.7,301.5 268.7,329.4 247.2,316.5" fill="#e8e8e8"/>
<polygon points="248.3,292.6 267,303 267,313.8 248.3,303" fill="#fcfcfc"/>
<polygon points="252.8,310 263.6,316 263.6,318.6 252.8,312.5" fill="#a3a3a3"/>
<line x1="255.5" y1="311.2" x2="255.5" y2="314.2" stroke="#e8e8e8" stroke-width="0.8"/>
<line x1="259.8" y1="313.6" x2="259.8" y2="316.6" stroke="#e8e8e8" stroke-width="0.8"/>
<polygon points="248,313.8 250.5,315.2 250.5,317.4 248,316" fill="#ffffff"/>
<polygon points="265.3,323.6 268,325.2 268,327.4 265.3,325.8" fill="#ffffff"/>
<polygon points="268.7,301.5 289.5,285.7 289.5,316.5 281,322 268.7,329.4" fill="#b8b8b8"/>
<polygon points="270.8,301.6 278.5,296.6 278.5,303.2 270.8,307.5" fill="#c6c6c6"/>
<ellipse cx="280.2" cy="321.3" rx="7.4" ry="8.6" fill="#a2a2a2"/>
<line x1="268.7" y1="301.5" x2="268.7" y2="329.4" stroke="#d6d6d6" stroke-width="0.9"/>
<polygon points="246.5,289.3 268.7,273.5 289.5,285.7 268.7,301.5" fill="#f1f1f1"/>
<ellipse cx="337.8" cy="289" rx="5.5" ry="7.1" fill="#3a3a3a"/>
<ellipse cx="339.3" cy="289.8" rx="5.5" ry="7.1" fill="#4b4b4b"/>
<ellipse cx="339.5" cy="289.8" rx="3.4" ry="4.5" fill="#adadad"/>
<ellipse cx="339.5" cy="289.8" rx="1.2" ry="1.6" fill="#6e6e6e"/>
<line x1="342.7" y1="289.8" x2="336.3" y2="289.8" stroke="#858585" stroke-width="0.5"/>
<line x1="341.8" y1="292.8" x2="337.2" y2="286.8" stroke="#858585" stroke-width="0.5"/>
<line x1="339.5" y1="294" x2="339.5" y2="285.6" stroke="#858585" stroke-width="0.5"/>
<line x1="337.2" y1="292.8" x2="341.8" y2="286.8" stroke="#858585" stroke-width="0.5"/>
<ellipse cx="322.1" cy="297.8" rx="5.5" ry="7.1" fill="#3a3a3a"/>
<ellipse cx="323.6" cy="298.6" rx="5.5" ry="7.1" fill="#4b4b4b"/>
<ellipse cx="323.8" cy="298.6" rx="3.4" ry="4.5" fill="#adadad"/>
<ellipse cx="323.8" cy="298.6" rx="1.2" ry="1.6" fill="#6e6e6e"/>
<line x1="327" y1="298.6" x2="320.6" y2="298.6" stroke="#858585" stroke-width="0.5"/>
<line x1="326.1" y1="301.6" x2="321.5" y2="295.6" stroke="#858585" stroke-width="0.5"/>
<line x1="323.8" y1="302.8" x2="323.8" y2="294.4" stroke="#858585" stroke-width="0.5"/>
<line x1="321.5" y1="301.6" x2="326.1" y2="295.6" stroke="#858585" stroke-width="0.5"/>
<ellipse cx="278.9" cy="320.8" rx="5.5" ry="7.1" fill="#3a3a3a"/>
<ellipse cx="280.4" cy="321.6" rx="5.5" ry="7.1" fill="#4b4b4b"/>
<ellipse cx="280.6" cy="321.6" rx="3.4" ry="4.5" fill="#adadad"/>
<ellipse cx="280.6" cy="321.6" rx="1.2" ry="1.6" fill="#6e6e6e"/>
<line x1="283.8" y1="321.6" x2="277.4" y2="321.6" stroke="#858585" stroke-width="0.5"/>
<line x1="282.9" y1="324.6" x2="278.3" y2="318.6" stroke="#858585" stroke-width="0.5"/>
<line x1="280.6" y1="325.8" x2="280.6" y2="317.4" stroke="#858585" stroke-width="0.5"/>
<line x1="278.3" y1="324.6" x2="282.9" y2="318.6" stroke="#858585" stroke-width="0.5"/>
<path d="M316.6 296Q318 288.5 324 288.3Q329.5 288.6 330 293L330 289.5L316.6 296.6Z" fill="#9b9b9b"/>
<path d="M332.4 287.2Q333.8 279.7 339.8 279.5Q345.3 279.8 345.8 284.2L345.8 280.6L332.4 287.8Z" fill="#9b9b9b"/>
<path d="M273.5 319Q275 311.6 281 311.4Q286.6 311.8 287 316.4L287 313L273.5 320.6Z" fill="#b8b8b8"/>
<path d="M356.5 195.3Q350 205 349.3 224L349.3 237.6L347.3 237.3L347.3 250.4L364.1 258L364.1 245L360.5 243L360.5 229.6Q360.5 218 373 203.5L375 196Z" fill="#adadad"/>
<polygon points="360.5,243 364.1,245 364.1,258 360.5,256.4" fill="#9c9c9c"/>
<path d="M415.3 194Q427 200 435.1 212.5Q441 226 443.5 240L444.6 256.5L445.3 256.5L445.3 270.3L424.7 271L424.7 257.2L430 257.2L430 240Q429.5 228 420.6 222.4L391.5 225Q384 234 378.3 248L375 262L372 262L372 214L386.5 214.2L415.6 211.5L417 209Z" fill="#adadad"/>
<polygon points="377,202 379,203.5 398.4,202.5 421.5,188.5 430,204 420.6,222.4 391.5,225 379,216" fill="#adadad"/>
<path d="M384.9 209.8Q390 206.6 395.5 205.3Q403 204.2 410 202.4L416.6 209.8L412 214.4L387.6 215.1Z" fill="#ffffff"/>
<polygon points="386.5,215.2 412.5,214.4 418,209 420.6,222.4 391.5,225 383,232" fill="#adadad"/>
<polygon points="383.6,215.1 389.5,216.4 382.3,227" fill="#8f8f8f"/>
<path d="M379.6 204.5L384 206L380 226Q375.5 245 375.6 280L378.7 279L378.7 292.5L373.3 300L368 297.5L368 289.4Q368 250 371.8 222Z" fill="#a6a6a6"/>
<path d="M379.6 204.5L382.3 205.4L377 226Q372.5 250 371.8 289L371.8 298.5L368 297.5L368 289.4Q368 250 371.8 222Z" fill="#d6d6d6"/>
<path d="M377.8 203L423.2 176.6L422.6 183Q420 190 398.4 198.3Q388 202 379 203.2Z" fill="#c0c0c0"/>
<path d="M377.8 203Q388 202.6 398.4 198.3Q417 191 422.6 183L421.5 188.5Q416 196 398.4 202.5Q388 205.3 379.3 204.2Z" fill="#a3a3a3"/>
<polygon points="314.8,117.6 319.6,114.6 368.3,190.5 360.3,198.8" fill="#9a9a9a"/>
<polygon points="314.8,117.6 316.6,116.4 363,196 360.3,198.8" fill="#b9b9b9"/>
<line x1="317.7" y1="116.9" x2="294.9" y2="164.4" stroke="#8a8a8a" stroke-width="1.2"/>
<line x1="339.1" y1="111.5" x2="294.9" y2="164.4" stroke="#8a8a8a" stroke-width="1.2"/>
<line x1="317.7" y1="116.9" x2="339.1" y2="111.5" stroke="#8a8a8a" stroke-width="2.4"/>
<line x1="339.1" y1="111.5" x2="397.6" y2="135.4" stroke="#8a8a8a" stroke-width="1.5"/>
<line x1="397.6" y1="135.4" x2="365.2" y2="164" stroke="#8a8a8a" stroke-width="1.3"/>
<circle cx="317.7" cy="116.9" r="2.8" fill="#8f8f8f"/>
<circle cx="339.1" cy="111.5" r="2.8" fill="#8f8f8f"/>
<circle cx="294.9" cy="164.4" r="2.4" fill="#999999"/>
<polygon points="361,167.5 368,160.5 371,163.2 365.5,172.5" fill="#a9a9a9"/>
<polygon points="362.3,175.3 377.8,181.5 377.8,203 363.4,195.5" fill="#d8d8d8"/>
<polygon points="377.8,181.5 423.2,156.5 423.2,176.6 377.8,203" fill="#e6e6e6"/>
<polygon points="362.3,175.3 407.7,150.3 423.2,156.5 377.8,181.5" fill="#f2f2f2"/>
<polygon points="388.3,181.6 395.6,179.1 395.6,186.6 388.3,189.9" fill="#8a8a8a"/>
<polygon points="388.3,181.6 391,180.7 391,188.7 388.3,189.9" fill="#b9b9b9"/>
<polygon points="407.6,170.6 415.4,168 415.4,175 407.6,178.2" fill="#8a8a8a"/>
<polygon points="407.6,170.6 410.4,169.7 410.4,177 407.6,178.2" fill="#b9b9b9"/>
<polygon points="395.6,134.2 399.6,136.2 389.8,161 385,159" fill="#cdcdcd"/>
<polygon points="396,134.2 400,133.5 408.5,147.5 403.2,150.8" fill="#a8a8a8"/>
<ellipse cx="311.5" cy="357.6" rx="8.5" ry="2.6" fill="#dedede" transform="rotate(-14 311.5 357.6)"/>
<polygon points="293.6,338 298.9,338 298.2,359.6 294.4,358.7" fill="#d9202e"/>
<polygon points="298.5,338 304.4,338 303.8,361.3 299.7,360.5" fill="#d9202e"/>
<ellipse cx="296.1" cy="359.6" rx="3" ry="1.1" fill="#1f1f1f"/>
<ellipse cx="302.1" cy="361.6" rx="3.3" ry="1.2" fill="#1f1f1f"/>
<path d="M292.2 327Q299 323.3 306.1 327L304.7 339.4L293.3 339.4Z" fill="#1c1c1c"/>
<polygon points="295.9,332.9 302.4,332.9 304.6,338.9 293.4,338.9" fill="#d9202e"/>
<line x1="295.2" y1="325.6" x2="296.9" y2="333.4" stroke="#d9202e" stroke-width="0.9"/>
<line x1="303" y1="325.6" x2="301.4" y2="333.4" stroke="#d9202e" stroke-width="0.9"/>
<ellipse cx="299.3" cy="322.1" rx="3.3" ry="2.9" fill="#e2b596"/>
<path d="M293.9 321.2Q294.8 315.5 300.3 316.3Q305.5 317.3 305 321Z" fill="#d9202e"/>
<ellipse cx="298.9" cy="326.4" rx="2.4" ry="2.5" fill="#d6d6d6"/>
<line x1="304.6" y1="330.5" x2="307.2" y2="318" stroke="#d8d8d8" stroke-width="2.6"/>
<line x1="305" y1="331" x2="306" y2="339" stroke="#cfcfcf" stroke-width="1"/>
<polygon points="404,338 441,358 481,339 448,324" fill="#e8e8e8"/>
<polygon points="444.5,349 458.3,358.8 476.8,350.6 476.8,352.8 458.3,361.2 444.5,351.4" fill="#c2c2c2"/>
<polygon points="445.3,329.8 458.3,336.4 458.3,358.8 445.3,349.2" fill="#c9c9c9"/>
<polygon points="458.3,336.4 475.8,329.2 475.8,350.6 458.3,358.8" fill="#bdbdbd"/>
<polygon points="445.3,329.8 462.6,321.9 475.8,329.2 458.3,336.4" fill="#d8d8d8"/>
<line x1="466.7" y1="333.3" x2="466.7" y2="342.6" stroke="#6d6d6d" stroke-width="1.1"/>
<line x1="448.3" y1="337.3" x2="451.8" y2="339.2" stroke="#f1f1f1" stroke-width="1.7"/>
<polygon points="433.4,327.5 442.8,323.3 443.5,345.5 434,349.5" fill="#a9a9a9"/>
<polygon points="429,318 442,311.5 443,331.5 434,336 429.7,333.6" fill="#c9c9c9"/>
<polygon points="403.2,316.7 412.5,321.3 420.5,325 429.7,333.6 434,336 434,349.5 428,352 403.2,334" fill="#d5d5d5"/>
<polygon points="403.2,326 434,342 434,349.5 428,352 403.2,334" fill="#c7c7c7"/>
<polygon points="403.2,316.7 412,312.5 421.5,317.2 412.5,321.3" fill="#eaeaea"/>
<polygon points="412.5,321.3 421.5,317.2 421.8,322.5 420.5,325" fill="#c6c6c6"/>
<polygon points="410.5,301.2 426,309.3 429.7,333.6 420.5,325 410.5,319.6" fill="#f2f2f2" opacity="0.45"/>
<polygon points="426,309.3 442.9,299 443.7,313 431.9,329.2 429.7,333.6" fill="#f6f6f6" opacity="0.6"/>
<polygon points="417.4,312.4 421,311.5 421.8,322.2 418,321.4" fill="#404040"/>
<polygon points="421.6,314 427.8,312.8 430.4,324.8 423.4,326.4" fill="#d9202e"/>
<polygon points="426,316 430.5,318.5 431.5,322.5 427,321" fill="#d9202e"/>
<ellipse cx="424.6" cy="311.2" rx="1.9" ry="2.1" fill="#e9d2c2"/>
<path d="M422.4 311Q422.8 307.5 425.2 307.8Q427.2 308.4 426.8 311Z" fill="#f6f6f6"/>
<line x1="430.5" y1="322" x2="434" y2="327" stroke="#6a6a6a" stroke-width="1"/>
<line x1="410.5" y1="301.2" x2="410.5" y2="319.8" stroke="#505050" stroke-width="1.7"/>
<line x1="428.2" y1="292.5" x2="428.2" y2="308" stroke="#6a6a6a" stroke-width="1"/>
<line x1="426" y1="309.3" x2="429.7" y2="333.6" stroke="#484848" stroke-width="1.7"/>
<line x1="442.9" y1="299.2" x2="444" y2="313" stroke="#555555" stroke-width="1.3"/>
<polygon points="410.5,300.5 428.2,291.6 442.9,299 426,309.3" fill="#a9a9a9"/>
<polygon points="410.5,300.5 426,309.3 426,310.9 410.5,302.1" fill="#4e4e4e"/>
<polygon points="426,309.3 442.9,299 442.9,300.6 426,310.9" fill="#5e5e5e"/>
<line x1="417" y1="300.5" x2="432" y2="296" stroke="#9a9a9a" stroke-width="0.7"/>
<line x1="441" y1="313" x2="442.2" y2="344.5" stroke="#484848" stroke-width="2.1"/>
<line x1="455.5" y1="307.1" x2="456.2" y2="323.5" stroke="#4e4e4e" stroke-width="1.9"/>
<line x1="441" y1="313" x2="455.5" y2="307.1" stroke="#505050" stroke-width="2.2"/>
<circle cx="445.1" cy="309.8" r="1.5" fill="#5c5c5c"/>
<circle cx="448.5" cy="308.4" r="1.5" fill="#5c5c5c"/>
<circle cx="452" cy="307" r="1.5" fill="#5c5c5c"/>
<polygon points="443,318 454.5,313.2 454.5,324.5 443,329.5" fill="#cdcdcd" opacity="0.85"/>
<line x1="446" y1="320" x2="446" y2="326" stroke="#efefef" stroke-width="1.2"/>
<ellipse cx="407.4" cy="332.7" rx="4.6" ry="5.3" fill="#2c2c2c"/>
<ellipse cx="409" cy="333.6" rx="4.6" ry="5.3" fill="#3b3b3b"/>
<ellipse cx="409" cy="333.6" rx="2.9" ry="3.3" fill="#b9b9b9"/>
<ellipse cx="409" cy="333.6" rx="0.9" ry="1.1" fill="#6a6a6a"/>
<line x1="411.7" y1="333.6" x2="406.3" y2="333.6" stroke="#8a8a8a" stroke-width="0.5"/>
<line x1="411.2" y1="335.4" x2="406.8" y2="331.8" stroke="#8a8a8a" stroke-width="0.5"/>
<line x1="409.8" y1="336.5" x2="408.2" y2="330.7" stroke="#8a8a8a" stroke-width="0.5"/>
<line x1="408.2" y1="336.5" x2="409.8" y2="330.7" stroke="#8a8a8a" stroke-width="0.5"/>
<line x1="406.8" y1="335.4" x2="411.2" y2="331.8" stroke="#8a8a8a" stroke-width="0.5"/>
<ellipse cx="431.2" cy="345.9" rx="5.3" ry="6.3" fill="#2c2c2c"/>
<ellipse cx="432.8" cy="346.8" rx="5.3" ry="6.3" fill="#3b3b3b"/>
<ellipse cx="432.8" cy="346.8" rx="3.3" ry="3.9" fill="#b9b9b9"/>
<ellipse cx="432.8" cy="346.8" rx="1.1" ry="1.3" fill="#6a6a6a"/>
<line x1="435.9" y1="346.8" x2="429.7" y2="346.8" stroke="#8a8a8a" stroke-width="0.5"/>
<line x1="435.3" y1="348.9" x2="430.3" y2="344.7" stroke="#8a8a8a" stroke-width="0.5"/>
<line x1="433.7" y1="350.3" x2="431.9" y2="343.3" stroke="#8a8a8a" stroke-width="0.5"/>
<line x1="431.9" y1="350.3" x2="433.7" y2="343.3" stroke="#8a8a8a" stroke-width="0.5"/>
<line x1="430.3" y1="348.9" x2="435.3" y2="344.7" stroke="#8a8a8a" stroke-width="0.5"/>
<polygon points="515.1,221.3 527.5,225.9 527.5,235.4 515.1,230.8" fill="#c3c3c3"/>
<polygon points="527.5,225.9 534.5,221.3 534.5,230.8 527.5,235.4" fill="#b8b8b8"/>
<polygon points="515.1,221.3 522.1,216.7 534.5,221.3 527.5,225.9" fill="#d3d3d3"/>
<polygon points="499.2,230.1 512.4,234.7 512.4,245.2 499.2,240.6" fill="#c4c4c4"/>
<polygon points="512.4,234.7 518.6,229.2 518.6,239.7 512.4,245.2" fill="#b9b9b9"/>
<polygon points="499.2,230.1 505.4,224.6 518.6,229.2 512.4,234.7" fill="#d4d4d4"/>
<polygon points="483.3,238 496.5,242.7 496.5,255.2 483.3,250.5" fill="#c6c6c6"/>
<polygon points="496.5,242.7 503.6,236.3 503.6,248.8 496.5,255.2" fill="#bbbbbb"/>
<polygon points="483.3,238 490.4,231.6 503.6,236.3 496.5,242.7" fill="#d6d6d6"/>
<polygon points="493.5,259 499,256.5 499,275.5 493.5,278" fill="#c4c4c4"/>
<line x1="476.6" y1="245.5" x2="476.6" y2="287.5" stroke="#787878" stroke-width="2.6"/>
<line x1="499" y1="250" x2="499" y2="281" stroke="#8c8c8c" stroke-width="1.6"/>
<line x1="476.6" y1="247.5" x2="492.8" y2="256" stroke="#787878" stroke-width="2.8"/>
<line x1="492.8" y1="256" x2="499.5" y2="252.8" stroke="#858585" stroke-width="2.4"/>
<line x1="476.6" y1="272.5" x2="492.8" y2="281" stroke="#808080" stroke-width="2"/>
<line x1="492.8" y1="281" x2="499.5" y2="277.8" stroke="#8a8a8a" stroke-width="1.8"/>
<line x1="478" y1="252.5" x2="491.5" y2="277.5" stroke="#a2a2a2" stroke-width="0.9"/>
<line x1="478" y1="271" x2="491.5" y2="259.5" stroke="#a2a2a2" stroke-width="0.9"/>
<line x1="492.8" y1="253.8" x2="492.8" y2="295" stroke="#808080" stroke-width="2.6"/>
<polygon points="577.5,283.2 701.5,223.3 701.5,278 577.5,339.4" fill="url(#gwall)"/>
<polygon points="498.3,246.4 533.6,240.4 577.5,283.2 577.5,338.6 498.3,300.6" fill="#e1e1e1"/>
<polygon points="498.3,246.4 533.6,240.4 577.5,283.2 577.5,285.2 533.6,242.8 498.3,248.6" fill="#f3f3f3"/>
<polygon points="504.8,253.6 570.4,285.4 570.4,336 504.8,302.3" fill="#f4f4f4"/>
<polygon points="506.5,255.8 569,286.4 569,316 506.5,286.4" fill="#fbfbfb"/>
<line x1="506.5" y1="258.9" x2="569" y2="289.4" stroke="#b7b7b7" stroke-width="0.9"/>
<line x1="506.5" y1="261.9" x2="569" y2="292.3" stroke="#b7b7b7" stroke-width="0.9"/>
<line x1="506.5" y1="265" x2="569" y2="295.3" stroke="#b7b7b7" stroke-width="0.9"/>
<line x1="506.5" y1="268" x2="569" y2="298.2" stroke="#b7b7b7" stroke-width="0.9"/>
<line x1="506.5" y1="271.1" x2="569" y2="301.2" stroke="#b7b7b7" stroke-width="0.9"/>
<line x1="506.5" y1="274.2" x2="569" y2="304.2" stroke="#b7b7b7" stroke-width="0.9"/>
<line x1="506.5" y1="277.2" x2="569" y2="307.1" stroke="#b7b7b7" stroke-width="0.9"/>
<line x1="506.5" y1="280.3" x2="569" y2="310.1" stroke="#b7b7b7" stroke-width="0.9"/>
<line x1="506.5" y1="283.3" x2="569" y2="313" stroke="#b7b7b7" stroke-width="0.9"/>
<polygon points="507.7,287.2 567.8,316.3 567.8,333.6 507.7,303.6" fill="#5a5a5a"/>
<polygon points="507.7,289.4 524.5,297.3 510,304.4 507.7,303.4" fill="#929292"/>
<polygon points="507.7,287.2 567.8,316.3 567.8,318 507.7,289" fill="#4a4a4a"/>
<polygon points="498.3,246.4 620,183 657.3,179.8 533.6,240.4" fill="#cdcdcd"/>
<line x1="503" y1="244" x2="538.4" y2="238.1" stroke="#b5b5b5" stroke-width="0.8"/>
<line x1="507.7" y1="241.5" x2="543.1" y2="235.7" stroke="#b5b5b5" stroke-width="0.8"/>
<line x1="512.3" y1="239.1" x2="547.9" y2="233.4" stroke="#b5b5b5" stroke-width="0.8"/>
<line x1="517" y1="236.6" x2="552.6" y2="231.1" stroke="#b5b5b5" stroke-width="0.8"/>
<line x1="521.7" y1="234.2" x2="557.4" y2="228.7" stroke="#b5b5b5" stroke-width="0.8"/>
<line x1="526.4" y1="231.8" x2="562.1" y2="226.4" stroke="#b5b5b5" stroke-width="0.8"/>
<line x1="531.1" y1="229.3" x2="566.9" y2="224.1" stroke="#b5b5b5" stroke-width="0.8"/>
<line x1="535.7" y1="226.9" x2="571.7" y2="221.8" stroke="#b5b5b5" stroke-width="0.8"/>
<line x1="540.4" y1="224.5" x2="576.4" y2="219.4" stroke="#b5b5b5" stroke-width="0.8"/>
<line x1="545.1" y1="222" x2="581.2" y2="217.1" stroke="#b5b5b5" stroke-width="0.8"/>
<line x1="549.8" y1="219.6" x2="585.9" y2="214.8" stroke="#b5b5b5" stroke-width="0.8"/>
<line x1="554.5" y1="217.1" x2="590.7" y2="212.4" stroke="#b5b5b5" stroke-width="0.8"/>
<line x1="559.1" y1="214.7" x2="595.5" y2="210.1" stroke="#b5b5b5" stroke-width="0.8"/>
<line x1="563.8" y1="212.3" x2="600.2" y2="207.8" stroke="#b5b5b5" stroke-width="0.8"/>
<line x1="568.5" y1="209.8" x2="605" y2="205.4" stroke="#b5b5b5" stroke-width="0.8"/>
<line x1="573.2" y1="207.4" x2="609.7" y2="203.1" stroke="#b5b5b5" stroke-width="0.8"/>
<line x1="577.9" y1="204.9" x2="614.5" y2="200.8" stroke="#b5b5b5" stroke-width="0.8"/>
<line x1="582.6" y1="202.5" x2="619.2" y2="198.4" stroke="#b5b5b5" stroke-width="0.8"/>
<line x1="587.2" y1="200.1" x2="624" y2="196.1" stroke="#b5b5b5" stroke-width="0.8"/>
<line x1="591.9" y1="197.6" x2="628.8" y2="193.8" stroke="#b5b5b5" stroke-width="0.8"/>
<line x1="596.6" y1="195.2" x2="633.5" y2="191.5" stroke="#b5b5b5" stroke-width="0.8"/>
<line x1="601.3" y1="192.8" x2="638.3" y2="189.1" stroke="#b5b5b5" stroke-width="0.8"/>
<line x1="606" y1="190.3" x2="643" y2="186.8" stroke="#b5b5b5" stroke-width="0.8"/>
<line x1="610.6" y1="187.9" x2="647.8" y2="184.5" stroke="#b5b5b5" stroke-width="0.8"/>
<line x1="615.3" y1="185.4" x2="652.5" y2="182.1" stroke="#b5b5b5" stroke-width="0.8"/>
<line x1="498.3" y1="246.4" x2="533.6" y2="240.4" stroke="#f2f2f2" stroke-width="1.2"/>
<polygon points="533.6,240.4 657.3,179.8 701.5,223.3 577.5,283.2" fill="#7c7c7c"/>
<line x1="538.4" y1="238.1" x2="582.3" y2="280.9" stroke="#8f8f8f" stroke-width="0.8"/>
<line x1="539.3" y1="237.7" x2="583.2" y2="280.5" stroke="#5c5c5c" stroke-width="0.8"/>
<line x1="543.1" y1="235.7" x2="587" y2="278.6" stroke="#8f8f8f" stroke-width="0.8"/>
<line x1="544" y1="235.3" x2="587.9" y2="278.2" stroke="#5c5c5c" stroke-width="0.8"/>
<line x1="547.9" y1="233.4" x2="591.8" y2="276.3" stroke="#8f8f8f" stroke-width="0.8"/>
<line x1="548.8" y1="233" x2="592.7" y2="275.9" stroke="#5c5c5c" stroke-width="0.8"/>
<line x1="552.6" y1="231.1" x2="596.6" y2="274" stroke="#8f8f8f" stroke-width="0.8"/>
<line x1="553.5" y1="230.7" x2="597.5" y2="273.6" stroke="#5c5c5c" stroke-width="0.8"/>
<line x1="557.4" y1="228.7" x2="601.3" y2="271.7" stroke="#8f8f8f" stroke-width="0.8"/>
<line x1="558.3" y1="228.3" x2="602.2" y2="271.3" stroke="#5c5c5c" stroke-width="0.8"/>
<line x1="562.1" y1="226.4" x2="606.1" y2="269.4" stroke="#8f8f8f" stroke-width="0.8"/>
<line x1="563" y1="226" x2="607" y2="269" stroke="#5c5c5c" stroke-width="0.8"/>
<line x1="566.9" y1="224.1" x2="610.9" y2="267.1" stroke="#8f8f8f" stroke-width="0.8"/>
<line x1="567.8" y1="223.7" x2="611.8" y2="266.7" stroke="#5c5c5c" stroke-width="0.8"/>
<line x1="571.7" y1="221.8" x2="615.7" y2="264.8" stroke="#8f8f8f" stroke-width="0.8"/>
<line x1="572.6" y1="221.4" x2="616.6" y2="264.4" stroke="#5c5c5c" stroke-width="0.8"/>
<line x1="576.4" y1="219.4" x2="620.4" y2="262.5" stroke="#8f8f8f" stroke-width="0.8"/>
<line x1="577.3" y1="219" x2="621.3" y2="262.1" stroke="#5c5c5c" stroke-width="0.8"/>
<line x1="581.2" y1="217.1" x2="625.2" y2="260.2" stroke="#8f8f8f" stroke-width="0.8"/>
<line x1="582.1" y1="216.7" x2="626.1" y2="259.8" stroke="#5c5c5c" stroke-width="0.8"/>
<line x1="585.9" y1="214.8" x2="630" y2="257.9" stroke="#8f8f8f" stroke-width="0.8"/>
<line x1="586.8" y1="214.4" x2="630.9" y2="257.5" stroke="#5c5c5c" stroke-width="0.8"/>
<line x1="590.7" y1="212.4" x2="634.7" y2="255.6" stroke="#8f8f8f" stroke-width="0.8"/>
<line x1="591.6" y1="212" x2="635.6" y2="255.2" stroke="#5c5c5c" stroke-width="0.8"/>
<line x1="595.5" y1="210.1" x2="639.5" y2="253.2" stroke="#8f8f8f" stroke-width="0.8"/>
<line x1="596.4" y1="209.7" x2="640.4" y2="252.8" stroke="#5c5c5c" stroke-width="0.8"/>
<line x1="600.2" y1="207.8" x2="644.3" y2="250.9" stroke="#8f8f8f" stroke-width="0.8"/>
<line x1="601.1" y1="207.4" x2="645.2" y2="250.5" stroke="#5c5c5c" stroke-width="0.8"/>
<line x1="605" y1="205.4" x2="649" y2="248.6" stroke="#8f8f8f" stroke-width="0.8"/>
<line x1="605.9" y1="205" x2="649.9" y2="248.2" stroke="#5c5c5c" stroke-width="0.8"/>
<line x1="609.7" y1="203.1" x2="653.8" y2="246.3" stroke="#8f8f8f" stroke-width="0.8"/>
<line x1="610.6" y1="202.7" x2="654.7" y2="245.9" stroke="#5c5c5c" stroke-width="0.8"/>
<line x1="614.5" y1="200.8" x2="658.6" y2="244" stroke="#8f8f8f" stroke-width="0.8"/>
<line x1="615.4" y1="200.4" x2="659.5" y2="243.6" stroke="#5c5c5c" stroke-width="0.8"/>
<line x1="619.2" y1="198.4" x2="663.3" y2="241.7" stroke="#8f8f8f" stroke-width="0.8"/>
<line x1="620.1" y1="198" x2="664.2" y2="241.3" stroke="#5c5c5c" stroke-width="0.8"/>
<line x1="624" y1="196.1" x2="668.1" y2="239.4" stroke="#8f8f8f" stroke-width="0.8"/>
<line x1="624.9" y1="195.7" x2="669" y2="239" stroke="#5c5c5c" stroke-width="0.8"/>
<line x1="628.8" y1="193.8" x2="672.9" y2="237.1" stroke="#8f8f8f" stroke-width="0.8"/>
<line x1="629.7" y1="193.4" x2="673.8" y2="236.7" stroke="#5c5c5c" stroke-width="0.8"/>
<line x1="633.5" y1="191.5" x2="677.7" y2="234.8" stroke="#8f8f8f" stroke-width="0.8"/>
<line x1="634.4" y1="191.1" x2="678.6" y2="234.4" stroke="#5c5c5c" stroke-width="0.8"/>
<line x1="638.3" y1="189.1" x2="682.4" y2="232.5" stroke="#8f8f8f" stroke-width="0.8"/>
<line x1="639.2" y1="188.7" x2="683.3" y2="232.1" stroke="#5c5c5c" stroke-width="0.8"/>
<line x1="643" y1="186.8" x2="687.2" y2="230.2" stroke="#8f8f8f" stroke-width="0.8"/>
<line x1="643.9" y1="186.4" x2="688.1" y2="229.8" stroke="#5c5c5c" stroke-width="0.8"/>
<line x1="647.8" y1="184.5" x2="692" y2="227.9" stroke="#8f8f8f" stroke-width="0.8"/>
<line x1="648.7" y1="184.1" x2="692.9" y2="227.5" stroke="#5c5c5c" stroke-width="0.8"/>
<line x1="652.5" y1="182.1" x2="696.7" y2="225.6" stroke="#8f8f8f" stroke-width="0.8"/>
<line x1="653.4" y1="181.7" x2="697.6" y2="225.2" stroke="#5c5c5c" stroke-width="0.8"/>
<line x1="533.6" y1="240.4" x2="577.5" y2="283.2" stroke="#efefef" stroke-width="1.3"/>
<line x1="577.5" y1="283.2" x2="701.5" y2="223.3" stroke="#5f5f5f" stroke-width="1.3"/>
<line x1="533.6" y1="240.4" x2="657.3" y2="179.8" stroke="#a2a2a2" stroke-width="1"/>
<polygon points="603,345 643.9,366.5 662,357.5 662,360.5 643.9,369.8 603,348" fill="#ababab"/>
<line x1="606" y1="348.2" x2="642" y2="367" stroke="#7d7d7d" stroke-width="0.7"/>
<polygon points="604.1,328.7 643.9,348.6 643.9,366.8 604.1,344.7" fill="#cacaca"/>
<polygon points="643.9,348.6 681.4,328.8 681.4,347 643.9,366.8" fill="#bcbcbc"/>
<polygon points="604.1,328.7 641.6,308.9 681.4,328.8 643.9,348.6" fill="#dadada"/>
<line x1="617.4" y1="335.3" x2="617.4" y2="352.3" stroke="#b9b9b9" stroke-width="0.9"/>
<line x1="618.1" y1="335.6" x2="618.1" y2="352.6" stroke="#dcdcdc" stroke-width="0.6"/>
<line x1="617.4" y1="335.3" x2="654.9" y2="315.5" stroke="#bdbdbd" stroke-width="0.9"/>
<line x1="656.4" y1="342" x2="656.4" y2="360.2" stroke="#aeaeae" stroke-width="0.9"/>
<line x1="616.6" y1="322.1" x2="656.4" y2="342" stroke="#bdbdbd" stroke-width="0.9"/>
<line x1="630.6" y1="342" x2="630.6" y2="359" stroke="#b9b9b9" stroke-width="0.9"/>
<line x1="631.3" y1="342.3" x2="631.3" y2="359.3" stroke="#dcdcdc" stroke-width="0.6"/>
<line x1="630.6" y1="342" x2="668.1" y2="322.2" stroke="#bdbdbd" stroke-width="0.9"/>
<line x1="668.9" y1="335.4" x2="668.9" y2="353.6" stroke="#aeaeae" stroke-width="0.9"/>
<line x1="629.1" y1="315.5" x2="668.9" y2="335.4" stroke="#bdbdbd" stroke-width="0.9"/>
<line x1="643.9" y1="348.6" x2="643.9" y2="366.8" stroke="#dedede" stroke-width="0.8"/>
<polygon points="605.1,331.9 609.3,334 609.3,337.6 605.1,335.5" fill="#f3f3f3"/>
<polygon points="618.1,339.3 622.5,341.5 622.5,345.1 618.1,342.9" fill="#f3f3f3"/>
<polygon points="632.1,346 636.5,348.2 636.5,351.8 632.1,349.6" fill="#f3f3f3"/>
<line x1="650.5" y1="344.4" x2="650.5" y2="352" stroke="#6c6c6c" stroke-width="1.2"/>
<line x1="650.5" y1="344.4" x2="641" y2="339.5" stroke="#c4c4c4" stroke-width="0.8"/>
<polygon points="640.5,316.5 650,321.3 650,331.8 640.5,327" fill="#cbcbcb"/>
<polygon points="650,321.3 659.5,316.3 659.5,326.8 650,331.8" fill="#bebebe"/>
<polygon points="640.5,316.5 650,311.5 659.5,316.3 650,321.3" fill="#dcdcdc"/>
<polygon points="627,309 637,314 637,323 627,318" fill="#cacaca"/>
<polygon points="637,314 647,309 647,318 637,323" fill="#bfbfbf"/>
<polygon points="627,309 637,304 647,309 637,314" fill="#dadada"/>
<polygon points="611.5,314 624.7,320.2 624.7,335.7 611.5,329.5" fill="#cbcbcb"/>
<polygon points="624.7,320.2 638.7,313.3 638.7,328.8 624.7,335.7" fill="#bdbdbd"/>
<polygon points="611.5,314 625.5,307.1 638.7,313.3 624.7,320.2" fill="#dedede"/>
<line x1="631.4" y1="316.8" x2="631.4" y2="324.6" stroke="#6c6c6c" stroke-width="1.2"/>
<line x1="631.4" y1="316.8" x2="618.3" y2="310.5" stroke="#c6c6c6" stroke-width="0.8"/>
<polygon points="613.7,319.3 618.1,321.5 618.1,325.3 613.7,323.1" fill="#f4f4f4"/>
<polygon points="673.9,282 678.3,282 677.7,304.2 674.6,303.2" fill="#2e2e2e"/>
<polygon points="678,282 682.9,282 682.4,305.9 678.9,305.1" fill="#2e2e2e"/>
<ellipse cx="676" cy="304.2" rx="2.5" ry="1.1" fill="#1f1f1f"/>
<ellipse cx="681" cy="306.2" rx="2.7" ry="1.2" fill="#1f1f1f"/>
<path d="M672.7 270.6Q678.4 266.9 684.3 270.6L683.2 283.4L673.6 283.4Z" fill="#d9202e"/>
<ellipse cx="678.6" cy="265.6" rx="2.7" ry="2.9" fill="#e2b596"/>
<path d="M675.1 265.4Q674.5 260.6 678.6 260.6Q682.5 260.6 681.9 264.5Q678.4 262.9 675.1 265.4Z" fill="#4a4a4a"/>
<line x1="672.6" y1="270.5" x2="668.8" y2="277.5" stroke="#a77a62" stroke-width="1.9"/>
<line x1="683.4" y1="270.5" x2="676" y2="279.5" stroke="#a77a62" stroke-width="1.9"/>
<line x1="666" y1="277.5" x2="671" y2="279.4" stroke="#f4f4f4" stroke-width="1.7"/>
<polygon points="657.2,373 692,391.5 700,398.5 712,400 806,345 806,336 784,346" fill="#e6e6e6"/>
<polygon points="757,281.5 771,277.6 799,293.5 784,299" fill="#f4f4f4"/>
<polygon points="784,298.5 800.2,294.5 805.7,333.6 784,341.5" fill="#f3f3f3"/>
<polygon points="799.4,293.5 802.5,296 807,331 805.7,333.6" fill="#dcdcdc"/>
<polygon points="787.2,304.6 798.6,300.4 799.6,314.8 787.2,320.3" fill="#4a4a4a"/>
<polygon points="788.4,306 797.5,302.6 798.3,313.8 788.4,318.3" fill="#eeeeee"/>
<line x1="801.5" y1="299" x2="803.3" y2="322" stroke="#333333" stroke-width="1"/>
<polygon points="802.5,308.5 805,308 805.5,317 803,317.5" fill="#2f2f2f"/>
<polygon points="784,333.5 805.7,326 806.4,335 793,344 784,342.5" fill="#2c2c2c"/>
<polygon points="696,389.5 784.5,342 784.5,348 697,396.2" fill="#2e2e2e"/>
<polygon points="691.9,389 697,391.5 697,396.2 691.9,393.5" fill="#3a3a3a"/>
<polygon points="691.9,348.6 783.2,296.5 783.2,341.8 691.9,389.6" fill="url(#gtruck)"/>
<polygon points="657.2,328.3 748.5,276.2 783.2,296.5 691.9,348.6" fill="#959595"/>
<polygon points="657.2,328.3 691.9,348.6 691.9,389.6 657.2,372.3" fill="#3e3e3e"/>
<polygon points="668,339 689.8,351.6 689.8,385 668,373.3" fill="#5c5c5c"/>
<polygon points="668,373.3 689.8,385 689.8,387 660,371.8 660,369.4" fill="#9b9b9b"/>
<polygon points="670,344.5 689.8,355.3 689.8,379 670,368.4" fill="#e6e6e6"/>
<polygon points="670,344.5 689.8,355.3 689.8,359.5 670,348.7" fill="#cdcdcd"/>
<line x1="672" y1="360" x2="688" y2="357.5" stroke="#ffffff" stroke-width="1.3"/>
<line x1="672" y1="363" x2="688" y2="364" stroke="#f8f8f8" stroke-width="0.9"/>
<line x1="671" y1="365" x2="688" y2="372" stroke="#e3e3e3" stroke-width="0.8"/>
<line x1="691.9" y1="348.6" x2="691.9" y2="389.6" stroke="#a8a8a8" stroke-width="0.8"/>
<ellipse cx="717" cy="386" rx="4.3" ry="5" fill="#1f1f1f"/>
<ellipse cx="718.2" cy="386.6" rx="4.3" ry="5" fill="#2b2b2b"/>
<ellipse cx="718.5" cy="386.6" rx="2.8" ry="3.1" fill="#e2e2e2"/>
<ellipse cx="718.5" cy="386.6" rx="2" ry="2.3" fill="#a9a9a9"/>
<ellipse cx="718.5" cy="386.6" rx="1" ry="1.2" fill="#8a8a8a"/>
<ellipse cx="727.6" cy="379.6" rx="4.3" ry="5" fill="#1f1f1f"/>
<ellipse cx="728.8" cy="380.2" rx="4.3" ry="5" fill="#2b2b2b"/>
<ellipse cx="729.1" cy="380.2" rx="2.8" ry="3.1" fill="#e2e2e2"/>
<ellipse cx="729.1" cy="380.2" rx="2" ry="2.3" fill="#a9a9a9"/>
<ellipse cx="729.1" cy="380.2" rx="1" ry="1.2" fill="#8a8a8a"/>
<ellipse cx="738.2" cy="373" rx="4.3" ry="5" fill="#1f1f1f"/>
<ellipse cx="739.4" cy="373.6" rx="4.3" ry="5" fill="#2b2b2b"/>
<ellipse cx="739.7" cy="373.6" rx="2.8" ry="3.1" fill="#e2e2e2"/>
<ellipse cx="739.7" cy="373.6" rx="2" ry="2.3" fill="#a9a9a9"/>
<ellipse cx="739.7" cy="373.6" rx="1" ry="1.2" fill="#8a8a8a"/>
<ellipse cx="782.2" cy="348.6" rx="4.7" ry="5.5" fill="#1f1f1f"/>
<ellipse cx="783.4" cy="349.2" rx="4.7" ry="5.5" fill="#2b2b2b"/>
<ellipse cx="783.7" cy="349.2" rx="3" ry="3.4" fill="#e2e2e2"/>
<ellipse cx="783.7" cy="349.2" rx="2.2" ry="2.5" fill="#a9a9a9"/>
<ellipse cx="783.7" cy="349.2" rx="1.1" ry="1.3" fill="#8a8a8a"/>
<polygon points="582.6,356.9 586.8,356.9 586.3,378.2 583.2,377.3" fill="#2e2e2e"/>
<polygon points="586.5,356.9 591.2,356.9 590.8,379.9 587.4,379.1" fill="#2e2e2e"/>
<ellipse cx="584.6" cy="378.2" rx="2.4" ry="1.1" fill="#1f1f1f"/>
<ellipse cx="589.4" cy="380.1" rx="2.6" ry="1.2" fill="#1f1f1f"/>
<path d="M581.5 345.9Q586.9 342.3 592.6 345.9L591.5 358.2L582.3 358.2Z" fill="#d9202e"/>
<ellipse cx="587.1" cy="341.1" rx="2.6" ry="2.8" fill="#e2b596"/>
<path d="M583.8 340.9Q583.1 336.3 587.1 336.3Q590.9 336.3 590.2 340Q586.9 338.5 583.8 340.9Z" fill="#e8c465"/>
<line x1="591.8" y1="347.5" x2="599.6" y2="352.5" stroke="#d9a98c" stroke-width="1.8"/>
<line x1="581.6" y1="348" x2="582.6" y2="357" stroke="#d9a98c" stroke-width="1.6"/>
<polygon points="602.8,369.3 607.3,369.3 606.7,393.3 603.5,392.2" fill="#2e2e2e"/>
<polygon points="607,369.3 612,369.3 611.6,395.1 608,394.3" fill="#2e2e2e"/>
<ellipse cx="604.9" cy="393.3" rx="2.6" ry="1.2" fill="#1f1f1f"/>
<ellipse cx="610.1" cy="395.4" rx="2.8" ry="1.3" fill="#1f1f1f"/>
<path d="M601.6 357.1Q607.4 353 613.5 357.1L612.3 370.8L602.5 370.8Z" fill="#d9202e"/>
<ellipse cx="607.6" cy="351.7" rx="2.8" ry="3.2" fill="#e2b596"/>
<path d="M604 351.4Q603.4 346.2 607.6 346.2Q611.7 346.2 611 350.4Q607.4 348.7 604 351.4Z" fill="#6d4a3a"/>
<line x1="612.8" y1="362.5" x2="619.6" y2="363.4" stroke="#d9a98c" stroke-width="1.9"/>
<line x1="612.6" y1="357" x2="613.6" y2="363" stroke="#d9202e" stroke-width="2.2"/>
</g>
<g id="arcs" filter="url(#soft2)"><path d="M240 56.3Q226.2 85.6 240 122.5Q229 85.6 240 56.3Z" fill="#d9202e" stroke="#d9202e" stroke-width="1.8" stroke-linejoin="round"/><path d="M272.5 60.5Q260.4 82.8 272 113.8Q263.1 82.8 272.5 60.5Z" fill="#d9202e" stroke="#d9202e" stroke-width="1.8" stroke-linejoin="round"/><path d="M303.3 65.5Q290.1 83.3 303.8 103Q292.8 83.3 303.3 65.5Z" fill="#d9202e" stroke="#d9202e" stroke-width="1.8" stroke-linejoin="round"/><path d="M566.3 67.5Q582.7 86.3 566.3 105Q579.9 86.3 566.3 67.5Z" fill="#d9202e" stroke="#d9202e" stroke-width="1.8" stroke-linejoin="round"/><path d="M597 65.5Q610.4 86 597 112.5Q607.6 86 597 65.5Z" fill="#d9202e" stroke="#d9202e" stroke-width="1.8" stroke-linejoin="round"/><path d="M630 60.5Q645.4 93.5 630 122.5Q642.6 93.5 630 60.5Z" fill="#d9202e" stroke="#d9202e" stroke-width="1.8" stroke-linejoin="round"/></g>
<g id="connectors" filter="url(#soft2)"><path d="M746.5 220L719.2 220L719.2 271.5L691 271.5" fill="none" stroke="#d9202e" stroke-width="1.45" stroke-dasharray="1.4 0.8"/><circle cx="689.4" cy="271.5" r="2" fill="#d9202e"/><path d="M373.7 379.5L373.7 325.6L415 325.6" fill="none" stroke="#d9202e" stroke-width="1.45" stroke-dasharray="1.4 0.8"/><circle cx="416.4" cy="325.6" r="2" fill="#d9202e"/><path d="M137.3 422.8L137.3 369.2L178.5 369.2" fill="none" stroke="#d9202e" stroke-width="1.45" stroke-dasharray="1.4 0.8"/><circle cx="179.8" cy="369.2" r="2" fill="#d9202e"/><path d="M561.5 449.7L561.5 358.3L578.5 358.3" fill="none" stroke="#d9202e" stroke-width="1.45" stroke-dasharray="1.4 0.8"/><circle cx="580.1" cy="358.3" r="2" fill="#d9202e"/><path d="M638.5 416.5L638.5 358.3L622.5 358.3" fill="none" stroke="#d9202e" stroke-width="1.45" stroke-dasharray="1.4 0.8"/><circle cx="620.8" cy="358.3" r="2" fill="#d9202e"/></g>
<g id="labels" filter="url(#soft2)">
<rect x="358.8" y="72" width="175.5" height="31.8" rx="5.5" fill="#d9202e"/>
<g class="lbl" transform="translate(0 89.6) scale(1 1.14) translate(0 -89.6)"><title>TMS运输管理系统</title><text x="390.4" y="94.64" font-family="&quot;Liberation Sans&quot;, &quot;Noto Sans CJK SC&quot;, sans-serif" font-size="14" font-weight="bold" fill="#fff" textLength="113" lengthAdjust="spacingAndGlyphs">TMS运输管理系统</text></g>
<circle cx="355.7" cy="77.5" r="17.7" fill="#fff" stroke="#2a2a2a" stroke-width="1.25"/>
<g transform="translate(355.7 77.5)"><g fill="none" stroke="#242424" stroke-width="2.3" stroke-linecap="round" stroke-linejoin="round"><path d="M-7.1 6.2C-10.6 6.5 -14 4.4 -14 0.4C-14 -3.6 -11 -6.3 -8.2 -6.3C-7.5 -10.6 -4 -13.3 -0.2 -13.3C3.9 -13.3 7.1 -11 8 -7.6C12 -7.8 15.2 -4.6 15.2 -0.6C15.2 3.5 12 6.4 8.2 6.2"/><path d="M0 11.2L0 -0.4M-4.5 3.9L0 -0.8L4.5 3.9"/></g></g>
<rect x="770.5" y="215" width="122.5" height="32.5" rx="5.5" fill="#d9202e"/>
<g class="lbl" transform="translate(0 231.2) scale(1 1.14) translate(0 -231.2)"><title>移动数据终端</title><text x="792.4" y="236.2" font-family="&quot;Liberation Sans&quot;, &quot;Noto Sans CJK SC&quot;, sans-serif" font-size="14" font-weight="bold" fill="#fff" textLength="83.4" lengthAdjust="spacingAndGlyphs">移动数据终端</text></g>
<circle cx="764.7" cy="220.3" r="17.5" fill="#fff" stroke="#2a2a2a" stroke-width="1.25"/>
<g transform="translate(764.7 220.3)"><g transform="translate(0.2 0)"><rect x="-8.4" y="-11.4" width="13.4" height="22.4" rx="1.6" fill="#242424"/><rect x="-6.7" y="-9.9" width="10.2" height="6.8" rx="0.5" fill="#fff"/><g fill="#fff"><rect x="-6.3" y="0.4" width="1.9" height="1.7"/><rect x="-3.4" y="0.4" width="1.9" height="1.7"/><rect x="-0.5" y="0.4" width="1.9" height="1.7"/><rect x="-6.3" y="3.2" width="1.9" height="1.7"/><rect x="-3.4" y="3.2" width="1.9" height="1.7"/><rect x="-6.3" y="6.2" width="1.9" height="1.9"/><rect x="-3.4" y="6.2" width="1.9" height="1.9"/></g><circle cx="4.6" cy="6.3" r="5.3" fill="#fff"/><g transform="translate(4.6 6.3)" fill="#242424"><circle r="3.5"/><rect x="-1" y="-4.7" width="2" height="9.4" transform="rotate(0)"/><rect x="-1" y="-4.7" width="2" height="9.4" transform="rotate(45)"/><rect x="-1" y="-4.7" width="2" height="9.4" transform="rotate(90)"/><rect x="-1" y="-4.7" width="2" height="9.4" transform="rotate(135)"/><circle r="1.9" fill="#fff"/></g></g></g>
<rect x="383.4" y="395" width="141" height="32.5" rx="5.5" fill="#d9202e"/>
<g class="lbl" transform="translate(0 411.3) scale(1 1.14) translate(0 -411.3)"><title>车载移动数据终端</title><text x="399.5" y="416.3" font-family="&quot;Liberation Sans&quot;, &quot;Noto Sans CJK SC&quot;, sans-serif" font-size="14" font-weight="bold" fill="#fff" textLength="110.9" lengthAdjust="spacingAndGlyphs">车载移动数据终端</text></g>
<circle cx="373.6" cy="398.3" r="17.7" fill="#fff" stroke="#2a2a2a" stroke-width="1.25"/>
<g transform="translate(373.6 398.3)"><g><rect x="-11.6" y="-10.2" width="23" height="13.9" rx="1" fill="#555555"/><rect x="-9.6" y="-8.2" width="19" height="10" fill="#fff"/><path d="M-10.8 3.9L11 3.9L13 10.6L-13.6 10.6Z" fill="#555555"/><g stroke="#fff" stroke-width="0.55" fill="none"><path d="M-11.6 6L11.8 6M-12.3 8L12.4 8M-12.8 9.5L12.8 9.5"/><path d="M-9.0 4.2L-10.3 9.5"/><path d="M-7.0 4.2L-8.0 9.5"/><path d="M-5.0 4.2L-5.7 9.5"/><path d="M-3.0 4.2L-3.4 9.5"/><path d="M-1.0 4.2L-1.1 9.5"/><path d="M1.0 4.2L1.1 9.5"/><path d="M3.0 4.2L3.4 9.5"/><path d="M5.0 4.2L5.7 9.5"/><path d="M7.0 4.2L8.0 9.5"/><path d="M9.0 4.2L10.3 9.5"/></g><rect x="-5" y="8.2" width="9.6" height="1.2" fill="#fff"/></g></g>
<rect x="145.5" y="436.3" width="142.2" height="31.7" rx="5.5" fill="#d9202e"/>
<g class="lbl" transform="translate(0 451.5) scale(1 1.14) translate(0 -451.5)"><title>RFID解决方案</title><text x="169.2" y="456.54" font-family="&quot;Liberation Sans&quot;, &quot;Noto Sans CJK SC&quot;, sans-serif" font-size="14" font-weight="bold" fill="#fff" textLength="89.2" lengthAdjust="spacingAndGlyphs">RFID解决方案</text></g>
<circle cx="138.9" cy="440.8" r="17.5" fill="#fff" stroke="#2a2a2a" stroke-width="1.25"/>
<g transform="translate(138.9 440.8)"><g><path d="M-4.9 -11.0L9.2 -11.0Q10.8 -11.0 10.8 -9.4L10.8 8.6Q10.8 10.2 9.2 10.2L-8.3 10.2Q-9.9 10.2 -9.9 8.6L-9.9 -6.0Z" fill="#2b2b2b"/><path d="M-3.9 -8.7L7.2 -8.7Q8.5 -8.7 8.5 -7.4L8.5 6.6Q8.5 7.9 7.2 7.9L-6.3 7.9Q-7.6 7.9 -7.6 6.6L-7.6 -5.0Z" fill="none" stroke="#8d8d8d" stroke-width="0.5"/><path d="M-2.8 -6.3L5.2 -6.3Q6.1 -6.3 6.1 -5.4L6.1 4.6Q6.1 5.5 5.2 5.5L-4.3 5.5Q-5.2 5.5 -5.2 4.6L-5.2 -3.9Z" fill="none" stroke="#fff" stroke-width="1.35"/><path d="M5.2 -3.2L-1.5 -3.2Q-3.2 -3.2 -3.2 -1.5L-3.2 2.4Q-3.2 4 -1.5 4L5.6 4" fill="none" stroke="#fff" stroke-width="1.3"/><path d="M5.8 -3.2L5.8 0.6" fill="none" stroke="#fff" stroke-width="1.1"/><ellipse cx="0.6" cy="0.5" rx="2.5" ry="2" fill="#0d0d0d"/></g></g>
<rect x="645.3" y="428.9" width="103.1" height="32.1" rx="5.5" fill="#d9202e"/>
<g class="lbl" transform="translate(0 444.8) scale(1 1.14) translate(0 -444.8)"><title>标签打印机</title><text x="661.6" y="449.8" font-family="&quot;Liberation Sans&quot;, &quot;Noto Sans CJK SC&quot;, sans-serif" font-size="14" font-weight="bold" fill="#fff" textLength="69.9" lengthAdjust="spacingAndGlyphs">标签打印机</text></g>
<circle cx="638.4" cy="435.1" r="17.6" fill="#fff" stroke="#2a2a2a" stroke-width="1.25"/>
<g transform="translate(638.4 435.1)"><g fill="#fff" stroke="#242424" stroke-width="1.75" stroke-linejoin="round"><path d="M-7.7 -8.3L-7.7 -12.5L7.9 -12.5L7.9 -8.3"/><rect x="-12" y="-8.3" width="24.6" height="14.3" rx="1.6"/><rect x="-8.1" y="1.7" width="16.4" height="9.9" rx="0.8"/><circle cx="8.3" cy="-4" r="0.45" fill="#242424" stroke-width="0.9"/></g></g>
<rect x="568" y="466.1" width="123.4" height="32.5" rx="5.5" fill="#d9202e"/>
<g class="lbl" transform="translate(0 481) scale(1 1.14) translate(0 -481)"><title>扫描解决方案</title><text x="590.4" y="486" font-family="&quot;Liberation Sans&quot;, &quot;Noto Sans CJK SC&quot;, sans-serif" font-size="14" font-weight="bold" fill="#fff" textLength="83.6" lengthAdjust="spacingAndGlyphs">扫描解决方案</text></g>
<circle cx="563.4" cy="468.2" r="17.6" fill="#fff" stroke="#2a2a2a" stroke-width="1.25"/>
<g transform="translate(563.4 468.2)"><g transform="translate(0.3 0.2)" fill="none" stroke="#333" stroke-width="1.65" stroke-linecap="round" stroke-linejoin="round"><path d="M-8.9 -3L-8.9 -6.8Q-8.9 -8.5 -7.2 -8.5L-3 -8.5"/><path d="M8.9 -3L8.9 -6.8Q8.9 -8.5 7.2 -8.5L3 -8.5"/><path d="M-8.9 3.4L-8.9 7.1Q-8.9 8.8 -7.2 8.8L-3 8.8"/><path d="M8.9 3.4L8.9 7.1Q8.9 8.8 7.2 8.8L3 8.8"/><path d="M-9.6 0.1L9.4 0.1"/></g></g>
</g>
<g id="title" filter="url(#soft2)" transform="translate(0 33.5) scale(1 1.045) translate(0 -33.5)"><title>物流解决方案：提高干线运输可靠度，加强交付精确及准确性</title><text x="11.2" y="44.2" font-family="&quot;Liberation Sans&quot;, &quot;Noto Sans CJK SC&quot;, sans-serif" font-size="28.3" font-weight="bold" fill="#000" textLength="749.5" lengthAdjust="spacingAndGlyphs">物流解决方案：提高干线运输可靠度，加强交付精确及准确性</text></g>
</svg>
</body>
</html>
